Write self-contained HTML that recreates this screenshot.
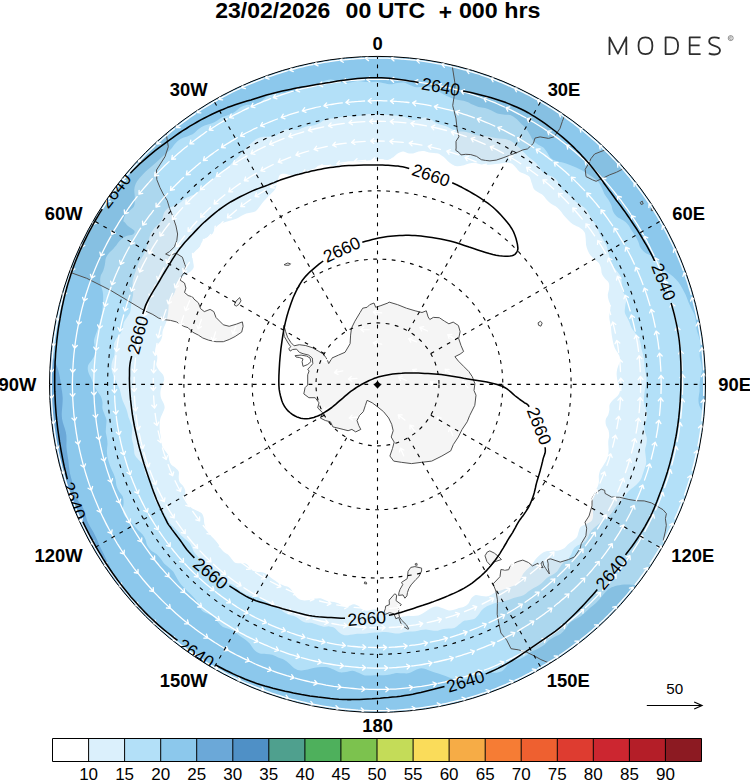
<!DOCTYPE html>
<html><head><meta charset="utf-8"><title>MODES</title>
<style>html,body{margin:0;padding:0;background:#fff}body{width:750px;height:782px;overflow:hidden}svg{display:block}text{font-family:"Liberation Sans",sans-serif}</style>
</head><body>
<svg width="750" height="782" viewBox="0 0 750 782">
<rect width="750" height="782" fill="#fff"/>
<defs><clipPath id="c"><circle cx="377.5" cy="384.4" r="328.0"/></clipPath></defs>
<g clip-path="url(#c)">
<rect x="40" y="50" width="680" height="670" fill="#6ba8d8"/>
<path d="M377.5,39.2C380,39.2 382.5,39.1 385,39.3C387.5,39.5 390,40 392.5,40.3C395,40.7 397.5,41.3 400,41.5C402.5,41.7 405,41.4 407.5,41.4C410,41.3 412.6,41 415.1,41.2C417.6,41.4 420,42.1 422.5,42.6C425,43.2 427.4,44 429.8,44.3C432.3,44.6 434.9,44.4 437.4,44.6C439.9,44.7 442.5,44.6 445,45.1C447.4,45.6 449.8,46.7 452.2,47.7C454.5,48.6 456.8,49.9 459.1,50.8C461.5,51.7 463.9,52.3 466.3,53.1C468.7,53.8 471,54.5 473.5,55.2C475.9,55.8 478.3,56.5 480.8,56.8C483.3,57.2 486,57 488.6,57.2C491.2,57.4 493.9,57.2 496.4,57.8C498.9,58.3 501.2,59.4 503.5,60.5C505.7,61.6 507.8,63.2 510.1,64.4C512.3,65.5 514.6,66.6 516.9,67.6C519.2,68.5 521.7,69.2 524,70.2C526.3,71.2 528.6,72.2 530.9,73.4C533.1,74.6 535.2,76.1 537.3,77.5C539.4,78.9 541.4,80.5 543.4,81.9C545.5,83.4 547.6,84.8 549.7,86.2C551.7,87.6 553.9,88.9 556,90.3C558,91.7 560,93.3 562,94.9C563.9,96.4 565.7,98.2 567.8,99.6C569.8,101 572,102.2 574.3,103.3C576.6,104.5 579.1,105.2 581.3,106.4C583.5,107.7 585.5,109.2 587.4,110.8C589.3,112.5 590.8,114.6 592.7,116.3C594.6,117.9 596.6,119.4 598.7,120.8C600.8,122.2 603.2,123.3 605.2,124.7C607.3,126.2 609.1,127.9 610.9,129.7C612.7,131.4 614.3,133.4 616.1,135.2C617.9,136.9 619.8,138.5 621.7,140.2C623.6,141.9 625.5,143.5 627.3,145.3C629.1,147 630.8,148.9 632.6,150.7C634.4,152.4 636.3,154 638.2,155.7C640.1,157.4 642.3,158.9 644,160.8C645.6,162.7 647,164.9 648.2,167.2C649.4,169.4 650,172.2 651,174.5C652,176.9 653,179.3 654.3,181.5C655.6,183.6 657.2,185.5 658.8,187.4C660.4,189.4 662.2,191.2 663.7,193.1C665.3,195.1 666.9,197.1 668.3,199.1C669.7,201.2 671,203.4 672.3,205.5C673.6,207.6 674.9,209.8 676.2,211.9C677.5,214.1 679,216.1 680.2,218.3C681.5,220.5 682.7,222.7 683.7,225C684.7,227.3 685.4,229.8 686.3,232.1C687.3,234.4 688.3,236.7 689.5,238.9C690.7,241.1 692.4,243.1 693.6,245.3C694.8,247.5 695.9,249.8 696.7,252.2C697.4,254.6 697.4,257.3 697.9,259.8C698.4,262.3 698.8,264.8 699.7,267.1C700.5,269.5 701.9,271.6 703,273.9C704.1,276.2 705.3,278.4 706.2,280.8C707.2,283.1 707.8,285.5 708.7,287.9C709.5,290.2 710.5,292.6 711.4,294.9C712.4,297.3 713.4,299.6 714.2,302C714.9,304.4 715.3,306.9 715.8,309.4C716.3,311.9 716.7,314.3 717.4,316.8C718,319.3 718.9,321.6 719.5,324.1C720,326.6 720.5,329.1 720.5,331.6C720.6,334.1 720.1,336.8 719.8,339.3C719.6,341.9 719.2,344.5 719.2,347C719.3,349.5 719.7,351.9 720.1,354.4C720.5,356.9 721.2,359.4 721.7,361.8C722.1,364.3 722.5,366.8 722.6,369.3C722.7,371.8 722.6,374.4 722.4,376.9C722.2,379.4 721.7,381.9 721.5,384.4C721.2,386.9 721.1,389.4 720.9,391.9C720.7,394.4 720.6,396.9 720.4,399.4C720.1,401.9 719.6,404.3 719.3,406.8C719,409.3 718.7,411.7 718.8,414.3C718.9,416.8 719.5,419.3 719.9,421.9C720.2,424.5 720.9,427.1 720.8,429.6C720.7,432.1 720,434.6 719.5,437C718.9,439.5 717.9,441.9 717.5,444.3C717,446.8 717,449.4 716.9,451.9C716.7,454.4 716.8,457 716.4,459.5C716,462 715.3,464.5 714.7,466.9C714,469.3 713.3,471.8 712.6,474.2C711.8,476.6 711.2,479.1 710.3,481.4C709.3,483.7 708,486 706.9,488.2C705.7,490.5 704.1,492.6 703.1,494.9C702.1,497.2 701.4,499.6 700.7,502C699.9,504.4 699.5,506.9 698.6,509.3C697.8,511.6 696.6,513.9 695.5,516.1C694.4,518.4 693,520.5 692,522.8C690.9,525.1 690.1,527.4 689.3,529.8C688.5,532.2 688,534.7 687.2,537.1C686.4,539.5 685.6,542 684.5,544.2C683.4,546.5 682.1,548.6 680.6,550.7C679.2,552.8 677.4,554.7 675.9,556.7C674.4,558.7 672.8,560.7 671.4,562.8C670,564.8 668.9,567 667.5,569.1C666.1,571.2 664.7,573.3 663.2,575.3C661.8,577.4 660.2,579.3 658.9,581.4C657.6,583.6 656.6,585.9 655.6,588.3C654.5,590.6 653.8,593.3 652.5,595.4C651.2,597.6 649.5,599.5 647.7,601.3C645.9,603 643.5,604.3 641.7,606.1C639.8,607.8 638.1,609.6 636.5,611.6C634.9,613.5 633.7,615.8 632.2,617.8C630.7,619.8 629.1,621.7 627.4,623.6C625.7,625.5 624,627.3 622.3,629.2C620.6,631 619,633 617.2,634.8C615.4,636.5 613.4,638.1 611.4,639.6C609.3,641.1 607,642.2 604.9,643.7C602.9,645.2 600.9,646.8 599.1,648.5C597.3,650.2 595.8,652.4 593.9,654.1C592.1,655.8 590.2,657.4 588,658.8C585.9,660.2 583.5,661.2 581.3,662.3C579.1,663.5 576.8,664.6 574.6,665.9C572.5,667.2 570.4,668.6 568.3,670C566.2,671.4 564.2,672.8 562.1,674.1C559.9,675.4 557.7,676.6 555.5,677.8C553.3,678.9 551,679.9 548.8,681.1C546.6,682.3 544.4,683.5 542.4,684.9C540.3,686.3 538.4,688.1 536.4,689.7C534.4,691.3 532.5,692.9 530.3,694.3C528.2,695.7 525.9,696.7 523.7,698C521.5,699.2 519.3,700.5 517.2,701.9C515,703.2 513,705 510.8,706.2C508.6,707.4 506.2,708.4 503.7,709C501.2,709.5 498.4,709.3 495.8,709.5C493.3,709.8 490.7,709.9 488.2,710.5C485.8,711.1 483.5,712.2 481.1,713.1C478.8,714 476.5,714.9 474.1,715.7C471.7,716.5 469.2,717.1 466.8,717.8C464.4,718.5 462.1,719.4 459.6,720C457.2,720.6 454.7,721.2 452.2,721.5C449.7,721.8 447.1,721.5 444.6,721.6C442.1,721.8 439.5,721.8 437.1,722.3C434.6,722.8 432.3,723.8 429.9,724.6C427.4,725.3 425,726.2 422.6,726.6C420.1,727.1 417.6,727.1 415,727.2C412.5,727.3 410,727.1 407.5,727.2C405,727.3 402.5,727.5 400,727.7C397.5,727.9 395,728.3 392.5,728.5C390,728.8 387.5,729 385,729.2C382.5,729.3 380,729.2 377.5,729.2C375,729.2 372.5,729 370,729.1C367.5,729.2 364.9,729.6 362.4,729.7C359.9,729.9 357.4,730.2 354.8,730C352.3,729.9 349.8,729.3 347.4,728.8C344.9,728.3 342.5,727.5 340,727.2C337.5,726.9 334.9,727 332.4,726.9C329.9,726.7 327.3,726.9 324.9,726.4C322.4,726 320,725 317.6,724.3C315.2,723.5 312.8,722.5 310.3,722.1C307.9,721.6 305.3,721.7 302.8,721.5C300.2,721.4 297.6,721.5 295.1,721.3C292.5,721 290.1,720.4 287.6,719.8C285.2,719.3 282.7,718.7 280.3,717.9C277.9,717.1 275.5,716.4 273.2,715.2C270.9,714.1 268.8,712.4 266.7,710.9C264.5,709.5 262.5,707.7 260.3,706.5C258,705.4 255.6,704.6 253.3,703.9C250.9,703.2 248.3,702.9 245.9,702.2C243.5,701.4 241.2,700.5 238.9,699.4C236.6,698.4 234.5,697 232.3,695.8C230.1,694.7 227.8,693.5 225.6,692.5C223.3,691.5 220.9,690.6 218.6,689.7C216.2,688.8 213.8,688 211.5,687C209.2,686 206.9,685 204.7,683.8C202.4,682.6 200.3,681.2 198.2,679.9C196,678.7 193.8,677.5 191.6,676.2C189.4,675 187.1,673.9 185.1,672.4C183,670.9 181.2,669.1 179.5,667.2C177.7,665.3 176.3,663 174.6,661.1C172.9,659.3 171,657.6 169,656.1C167.1,654.5 164.8,653.4 162.9,651.8C161,650.1 159.3,648.3 157.7,646.3C156.1,644.4 154.9,642 153.3,640C151.8,638 150.1,636.2 148.5,634.3C146.9,632.4 145.1,630.7 143.7,628.7C142.2,626.6 140.9,624.4 139.7,622.2C138.4,620.1 137.2,617.8 136,615.6C134.7,613.4 133.3,611.4 132.2,609.1C131.1,606.9 130.2,604.4 129.4,602C128.5,599.5 128.1,596.8 127.2,594.4C126.2,592.1 125.1,590 123.7,588.1C122.4,586.1 120.5,584.6 119,582.8C117.4,581 115.8,579.2 114.6,577.2C113.3,575.2 112.3,573 111.3,570.8C110.3,568.6 109.5,566.3 108.5,564.1C107.5,561.9 106.6,559.8 105.5,557.7C104.5,555.5 103.4,553.5 102.4,551.4C101.3,549.3 100.2,547.2 99.3,545C98.3,542.9 97.5,540.7 96.6,538.5C95.6,536.4 94.6,534.3 93.5,532.2C92.4,530.2 91,528.3 89.9,526.2C88.8,524.2 87.7,522.1 86.9,519.9C86.1,517.7 85.8,515.3 85.1,513.1C84.3,510.9 83.5,508.7 82.4,506.6C81.2,504.6 79.4,502.8 78.1,500.8C76.9,498.8 75.6,496.8 74.8,494.6C73.9,492.4 73.8,490 73.3,487.7C72.8,485.4 72.4,483 71.9,480.8C71.4,478.5 70.6,476.3 70.1,474C69.6,471.7 69.3,469.4 69,467.1C68.7,464.7 68.6,462.4 68.3,460.1C68,457.7 67.5,455.5 67.2,453.2C66.9,450.9 66.5,448.6 66.4,446.3C66.3,444 66.6,441.6 66.5,439.2C66.5,436.9 66.4,434.6 65.9,432.4C65.5,430.1 64.5,427.9 63.9,425.7C63.2,423.5 62.4,421.2 62.1,418.9C61.7,416.7 61.7,414.3 61.8,412C61.9,409.7 62.3,407.4 62.4,405.1C62.6,402.7 62.7,400.4 62.7,398.1C62.6,395.9 62.3,393.6 62,391.3C61.7,389 61.2,386.7 60.9,384.4C60.5,382.1 60.3,379.8 59.9,377.5C59.5,375.1 59,372.8 58.3,370.5C57.6,368.1 56.6,365.7 55.6,363.3C54.6,360.9 53.4,358.4 52.3,355.9C51.2,353.5 49.6,350.9 49,348.4C48.3,345.9 48.8,343.6 48.5,341.1C48.1,338.6 47.4,336.1 46.8,333.5C46.2,330.9 45,328.2 44.8,325.7C44.7,323.2 45.6,320.9 46.1,318.5C46.6,316.1 47.3,313.7 47.7,311.3C48.1,308.9 48.2,306.4 48.4,303.9C48.6,301.4 48.8,298.9 49,296.4C49.3,293.9 49.7,291.4 49.9,288.9C50,286.4 49.9,283.7 50,281.1C50,278.5 49.9,275.8 50.2,273.3C50.6,270.8 51.4,268.4 52.3,266C53.1,263.7 54.4,261.4 55.2,259.1C56.1,256.7 56.8,254.3 57.6,251.9C58.4,249.5 58.9,247 59.9,244.7C60.9,242.4 62.2,240.2 63.6,238C64.9,235.9 66.6,233.9 68.1,231.8C69.6,229.7 71.1,227.7 72.3,225.5C73.6,223.4 74.7,221.1 75.7,218.8C76.7,216.5 77.4,214 78.4,211.7C79.3,209.4 80.3,207 81.5,204.8C82.7,202.6 84.2,200.5 85.5,198.4C86.9,196.3 88.2,194.1 89.5,192C90.9,189.9 92.1,187.6 93.7,185.7C95.3,183.7 97.2,182 99.1,180.3C101,178.6 103.4,177.2 105.1,175.4C106.9,173.6 108.3,171.5 109.6,169.4C110.9,167.2 111.7,164.7 113.1,162.5C114.5,160.4 116,158.4 117.7,156.6C119.5,154.8 121.6,153.3 123.5,151.6C125.4,150 127.2,148.2 129,146.5C130.8,144.7 132.5,142.9 134.4,141.3C136.2,139.6 138.2,138.1 140,136.3C141.8,134.6 143.5,132.8 145.2,130.9C146.9,129 148.2,126.8 150,124.9C151.7,123.1 153.6,121.4 155.6,119.9C157.6,118.4 160,117.4 162,116C164.1,114.5 166.1,113 168,111.4C169.9,109.7 171.5,107.7 173.3,105.9C175.1,104.1 176.9,102.3 178.8,100.7C180.8,99.1 182.9,97.7 185,96.3C187.1,94.9 189.2,93.6 191.3,92.2C193.4,90.8 195.5,89.3 197.6,87.9C199.7,86.5 201.6,84.9 203.8,83.5C205.9,82.2 208.1,80.9 210.5,80C212.8,79 215.4,78.4 217.8,77.7C220.3,76.9 222.8,76.3 225.2,75.5C227.5,74.6 229.8,73.5 232.1,72.6C234.5,71.8 236.8,70.9 239.3,70.3C241.7,69.6 244.4,69.5 246.8,68.8C249.1,68 251.5,67.2 253.6,65.9C255.8,64.6 257.7,62.6 259.8,61.1C262,59.7 264.1,58.2 266.4,57.1C268.7,56.1 271.2,55.7 273.7,55C276.1,54.4 278.6,53.9 281,53.3C283.4,52.6 285.8,51.9 288.2,51.3C290.7,50.7 293.2,50.3 295.6,49.8C298.1,49.2 300.5,48.6 302.9,47.8C305.3,47 307.6,45.7 310,44.9C312.4,44.1 314.8,43.2 317.3,42.8C319.8,42.4 322.4,42.6 324.9,42.6C327.4,42.6 330,42.8 332.5,42.5C335,42.3 337.4,41.8 339.9,41.3C342.4,40.8 344.9,40.2 347.4,39.8C349.8,39.5 352.4,39.3 354.9,39.2C357.4,39.1 359.9,39.2 362.4,39.2C364.9,39.2 367.5,39.3 370,39.3C372.5,39.3 375,39.2 377.5,39.2Z" fill="#8cc8ec"/>
<path d="M377.5,81.9C379.7,82.1 381.9,82.8 384.1,83.2C386.3,83.6 388.4,84.3 390.6,84.3C392.8,84.3 395,83.3 397.3,83C399.5,82.8 401.7,82.2 403.9,82.6C406.1,83 408.1,84.5 410.3,85.3C412.4,86 414.4,87 416.6,87.3C418.8,87.5 421.1,86.7 423.3,86.7C425.5,86.6 427.8,86.5 429.9,87C432.1,87.5 434.1,88.8 436.1,89.9C438.1,91 440,92.4 442,93.5C444,94.6 445.9,95.7 447.9,96.6C449.9,97.5 451.9,98.3 454,98.9C456.1,99.5 458.2,99.7 460.3,100.2C462.5,100.6 464.6,100.9 466.6,101.7C468.7,102.4 470.5,103.7 472.5,104.6C474.5,105.4 476.4,106.4 478.5,107C480.6,107.6 482.9,107.5 485,108.1C487.1,108.6 489.1,109.4 491,110.3C493,111.2 494.7,112.6 496.8,113.3C498.8,114 501.1,114.1 503.4,114.4C505.7,114.7 508.2,114.4 510.3,115.1C512.4,115.8 514.2,117.1 515.9,118.5C517.7,119.8 519.1,121.7 520.7,123.3C522.3,124.9 524.1,126.2 525.5,128C527,129.7 528.3,131.8 529.5,133.9C530.8,135.9 531.7,138.5 533,140.3C534.4,142 536.1,143.2 537.9,144.4C539.6,145.6 541.8,146.1 543.4,147.5C545,148.9 546.1,150.9 547.4,152.7C548.6,154.5 549.5,156.9 551,158.3C552.6,159.7 554.6,160.5 556.6,161.2C558.7,161.9 561.3,162.1 563.5,162.7C565.7,163.4 567.8,164.1 570,165C572.1,165.8 574.1,166.7 576.1,167.6C578.2,168.6 580.3,169.5 582.3,170.5C584.2,171.6 586.1,172.8 587.9,174C589.8,175.2 591.6,176.4 593.4,177.8C595.1,179.1 597,180.3 598.4,182C599.8,183.6 600.7,185.8 601.7,187.8C602.7,189.8 603.4,192 604.4,194C605.5,195.9 607,197.5 608.1,199.3C609.2,201.2 610.4,203 611.2,205.1C612,207.1 612.2,209.7 613.1,211.6C614.1,213.6 615.3,215.3 617,216.7C618.6,218.2 621.3,218.9 623.1,220.3C625,221.6 626.8,223.1 628.1,224.7C629.5,226.4 630.3,228.5 631.5,230.3C632.6,232.1 634,233.8 635.1,235.7C636.2,237.5 637.3,239.4 638.2,241.4C639.1,243.3 639.3,245.7 640.4,247.6C641.5,249.4 642.9,251.1 644.9,252.6C646.8,254 650,254.9 652.3,256.3C654.6,257.6 656.8,259.1 658.5,260.8C660.1,262.5 660.6,264.7 662,266.6C663.4,268.4 665,270.2 666.9,271.9C668.8,273.5 671.4,275 673.3,276.7C675.3,278.5 677,280.3 678.5,282.2C680,284.2 681.1,286.3 682.2,288.3C683.4,290.4 684.5,292.5 685.5,294.6C686.5,296.8 687.2,299 688.1,301.2C689,303.4 690,305.5 691,307.7C692,309.9 693.4,311.9 694.3,314.2C695.1,316.4 695.5,318.7 695.9,321.1C696.2,323.4 696,325.8 696.4,328.2C696.8,330.5 697.6,332.7 698.3,335C699,337.3 700.1,339.5 700.4,341.9C700.7,344.2 700.3,346.7 700.1,349.1C700,351.5 699.5,353.9 699.7,356.2C699.8,358.6 700.8,360.8 701.2,363.2C701.6,365.5 702.1,367.9 701.9,370.2C701.8,372.6 700.8,375 700.4,377.4C700,379.7 699.7,382.1 699.6,384.4C699.4,386.7 699.7,389.1 699.5,391.4C699.3,393.8 698.6,396.1 698.5,398.4C698.5,400.8 698.5,403.1 699.3,405.5C700.1,407.9 702.3,410.4 703.4,412.9C704.6,415.4 706,418 706.3,420.4C706.5,422.8 705.4,425.2 704.9,427.5C704.3,429.8 703.2,432.1 702.9,434.5C702.6,436.9 702.9,439.3 702.9,441.8C703,444.2 703.1,446.7 703.1,449.2C703.1,451.6 702.8,454 702.7,456.5C702.6,459 702.6,461.4 702.4,463.9C702.2,466.4 701.9,468.8 701.6,471.2C701.3,473.7 700.9,476.1 700.6,478.6C700.2,481 700.2,483.6 699.6,486C699,488.3 698.2,490.7 697.1,492.9C696,495.1 694,497 692.7,499.1C691.5,501.3 690.3,503.4 689.4,505.7C688.4,507.9 688.2,510.5 687.2,512.7C686.1,514.9 684.7,516.9 683.2,518.9C681.7,520.9 679.5,522.6 678.3,524.6C677,526.7 676.3,529 675.5,531.3C674.7,533.6 674.4,536.2 673.4,538.4C672.4,540.7 670.9,542.6 669.7,544.7C668.4,546.8 667.1,548.8 666,551C664.9,553.2 664.3,555.6 663.2,557.8C662,559.9 660.5,561.8 659.1,563.8C657.6,565.7 655.6,567.3 654.4,569.4C653.2,571.5 652.8,574.2 651.6,576.4C650.5,578.5 649.5,580.8 647.4,582.3C645.3,583.7 642.5,584.7 639.1,585.1C635.6,585.5 630.5,584.5 626.9,584.5C623.2,584.6 620,584.9 617.2,585.6C614.4,586.2 612.1,587.1 610.1,588.3C608,589.5 606.5,591.2 604.9,592.8C603.3,594.4 602.1,596.3 600.6,598C599.1,599.6 597.6,601.3 596,602.9C594.3,604.4 592.5,605.7 590.8,607.2C589.1,608.7 587.6,610.3 585.9,611.8C584.2,613.3 582.6,614.9 580.8,616.2C578.9,617.5 576.7,618.3 574.7,619.5C572.8,620.7 570.9,621.8 569.3,623.4C567.7,625 566.8,627.4 565.3,629.1C563.8,630.9 562.3,632.7 560.5,634C558.7,635.3 556.3,635.8 554.3,636.9C552.3,637.9 550.4,639.1 548.6,640.5C546.9,641.9 545.5,643.9 543.7,645.3C541.9,646.6 539.9,647.7 537.9,648.7C535.9,649.8 533.7,650.4 531.8,651.6C529.8,652.7 528.2,654.4 526.3,655.6C524.4,656.8 522.4,657.9 520.3,658.8C518.2,659.6 515.8,659.7 513.7,660.7C511.7,661.6 509.9,663 508.2,664.6C506.4,666.2 505.1,668.8 503.2,670.2C501.4,671.5 499.2,672.3 496.9,672.7C494.6,673.1 491.9,672.4 489.6,672.5C487.2,672.7 484.9,672.9 482.7,673.5C480.6,674.1 478.6,675.3 476.5,676.1C474.4,676.9 472.3,677.8 470.2,678.3C468,678.9 465.8,679.4 463.5,679.6C461.3,679.8 458.9,679.8 456.5,679.4C454.2,679 451.6,678.2 449.2,677.4C446.8,676.6 444.3,675.5 441.9,674.8C439.5,674 437.2,673.4 434.8,672.6C432.5,671.8 430.1,670.7 427.8,669.9C425.6,669.2 423.3,668.2 421.2,668.3C419.1,668.3 417.1,669.5 415.1,670.3C413.1,671.1 411.2,672.6 409.1,673.1C407.1,673.6 404.9,673.3 402.8,673.3C400.7,673.3 398.5,672.8 396.4,673C394.3,673.2 392.3,674.1 390.2,674.5C388.1,674.9 386,675.2 383.8,675.3C381.7,675.4 379.6,674.9 377.5,674.9C375.4,674.9 373.3,675.3 371.2,675.4C369,675.5 366.9,675.8 364.8,675.4C362.7,674.9 360.7,673.5 358.6,672.7C356.5,671.9 354.5,670.9 352.4,670.7C350.3,670.6 348.1,671.7 346,672C343.9,672.2 341.7,672.7 339.6,672.3C337.5,671.9 335.6,670.4 333.6,669.5C331.6,668.7 329.7,667.6 327.6,667.2C325.6,666.7 323.4,666.9 321.3,667C319.1,667.1 316.9,667.4 314.7,667.8C312.4,668.2 310,669.1 307.7,669.6C305.4,670 303,670.7 300.8,670.5C298.7,670.4 296.6,669.7 294.7,668.5C292.8,667.4 291.2,665.2 289.4,663.7C287.7,662.2 285.9,660.7 284.1,659.7C282.2,658.6 280.1,658.2 278.2,657.4C276.2,656.5 274.4,655.4 272.3,654.8C270.3,654.2 268.1,654.1 265.9,653.9C263.7,653.6 261.2,654.1 259.2,653.3C257.2,652.6 255.5,651.1 253.9,649.5C252.3,647.9 251.2,645.3 249.7,643.6C248.1,641.9 246.5,640.6 244.8,639.3C243.1,638 241.3,637 239.6,635.7C237.9,634.5 236.5,632.8 234.7,631.7C233,630.6 231,629.8 229.1,629C227.1,628.2 224.8,628 223,627C221.2,625.9 219.8,624.2 218.3,622.6C216.9,621 215.9,618.8 214.4,617.4C212.8,616 210.8,615.2 208.9,614.3C207.1,613.3 204.8,612.9 203.1,611.6C201.5,610.3 200.4,608.4 199.2,606.5C198.1,604.7 197.3,602.3 196.2,600.5C195,598.7 193.5,597.3 192.1,595.8C190.7,594.3 189.1,593 187.6,591.6C186.2,590.1 184.8,588.7 183.4,587.1C182.1,585.6 180.7,584.1 179.5,582.4C178.3,580.8 177.3,578.8 176.3,577C175.2,575.2 174.4,573.2 173.2,571.6C171.9,570 170.3,568.8 168.8,567.4C167.3,566.1 165.5,564.9 164.1,563.4C162.8,562 161.9,560.1 160.6,558.5C159.3,556.9 158.1,555.3 156.5,554C154.9,552.6 152.6,551.8 151.1,550.4C149.6,549 148.2,547.4 147.3,545.6C146.4,543.8 146.3,541.3 145.5,539.4C144.7,537.5 143.7,535.7 142.4,534.2C141.1,532.6 139.2,531.4 137.8,529.9C136.3,528.4 135.1,526.7 133.7,525.2C132.3,523.6 131,522 129.5,520.5C128,518.9 125.9,517.7 124.8,516C123.7,514.2 123,512.2 122.8,510C122.6,507.8 123.7,505 123.6,502.8C123.6,500.5 123.4,498.4 122.7,496.5C121.9,494.6 120.1,493.2 119.1,491.5C118,489.7 117.1,487.8 116.6,485.9C116,483.9 116,481.7 115.6,479.7C115.1,477.8 114.4,475.9 113.7,474C112.9,472.1 111.9,470.3 111.1,468.4C110.3,466.5 109.6,464.6 109,462.7C108.4,460.7 107.8,458.8 107.4,456.8C107.1,454.8 106.9,452.7 106.9,450.6C106.9,448.5 107.4,446.3 107.5,444.3C107.5,442.2 107.3,440.2 107,438.2C106.8,436.2 106,434.3 105.8,432.3C105.7,430.3 106,428.2 106.1,426.2C106.2,424.1 106.7,422.1 106.5,420.1C106.2,418.1 105.1,416.2 104.5,414.3C103.8,412.4 102.8,410.4 102.5,408.5C102.1,406.5 102.7,404.4 102.5,402.4C102.2,400.4 101.9,398.5 100.9,396.5C100,394.5 98,392.5 96.8,390.5C95.6,388.5 94.5,386.5 93.6,384.4C92.6,382.3 91.9,380.3 91.1,378.1C90.2,376 88.7,373.9 88.2,371.8C87.7,369.7 87.5,367.5 88.1,365.4C88.8,363.4 91,361.4 92.2,359.4C93.4,357.5 95,355.6 95.5,353.5C95.9,351.5 95.1,349.3 94.8,347.2C94.6,345.1 93.8,342.8 94,340.8C94.1,338.7 95,336.7 95.6,334.7C96.3,332.7 97.2,330.8 97.8,328.8C98.5,326.8 99,324.8 99.5,322.8C100.1,320.8 100.7,318.8 101.2,316.8C101.7,314.8 102.1,312.7 102.3,310.7C102.6,308.6 102.6,306.4 102.8,304.3C102.9,302.2 103.2,300.1 103.2,297.9C103.2,295.7 103.1,293.5 102.6,291.1C102.1,288.7 100.8,286 100.4,283.6C100.1,281.2 100,278.8 100.5,276.7C100.9,274.5 102.4,272.8 103.2,270.8C103.9,268.7 104.4,266.6 104.9,264.5C105.4,262.3 105.2,259.8 106,257.8C106.8,255.8 108.3,254.1 109.7,252.3C111.1,250.6 113.2,249.2 114.4,247.4C115.6,245.6 116.1,243.5 116.9,241.4C117.6,239.3 117.9,237 118.7,235C119.5,232.9 120.8,231.2 121.5,229C122.2,226.9 122.5,224.5 123.1,222.3C123.6,220.1 123.8,217.6 124.9,215.6C126,213.7 127.9,212.3 129.4,210.7C131,209.1 133.1,208 134.1,205.9C135,203.8 134.8,201 134.9,198.2C134.9,195.5 134.1,191.9 134.3,189.2C134.6,186.6 135.4,184.3 136.5,182.2C137.6,180.1 139.2,178.5 140.7,176.7C142.2,175 143.8,173.3 145.4,171.7C147.1,170.2 148.9,168.7 150.6,167.2C152.3,165.7 154.1,164.2 155.8,162.7C157.5,161.2 159.1,159.6 160.8,158C162.5,156.5 164.2,155 166,153.5C167.7,152 169.5,150.6 171,149C172.6,147.3 173.7,145.1 175.3,143.5C176.9,141.8 178.5,140.1 180.5,138.9C182.5,137.7 185.1,137.4 187.3,136.5C189.5,135.6 191.7,134.9 193.6,133.6C195.5,132.4 196.9,130.4 198.7,129.1C200.5,127.7 202.5,126.5 204.6,125.6C206.7,124.7 209.2,124.4 211.3,123.6C213.4,122.7 215.3,121.5 217.3,120.4C219.2,119.3 221,117.8 223,116.8C225,115.9 227.4,115.4 229.5,114.5C231.5,113.7 233.6,112.8 235.4,111.5C237.3,110.3 238.8,108.2 240.8,107.1C242.7,106 244.9,105.3 247.1,104.8C249.4,104.4 252.1,105 254.4,104.5C256.6,104.1 258.6,103.2 260.5,102C262.4,100.8 263.9,98.5 265.8,97.2C267.7,95.9 269.7,94.8 271.9,94.2C274,93.5 276.4,93.6 278.7,93.4C281,93.1 283.3,93.1 285.6,92.9C287.8,92.7 290.1,92.6 292.3,92.2C294.5,91.9 296.7,91.4 298.8,90.7C300.9,90 302.9,88.8 304.9,87.9C307,87 309.1,86.1 311.2,85.4C313.3,84.6 315.5,84.2 317.6,83.5C319.8,82.7 321.8,81.7 324,81C326.2,80.3 328.3,79.4 330.6,79.4C332.8,79.4 335.2,80.4 337.6,81C339.9,81.6 342.2,82.8 344.5,83C346.7,83.2 348.9,82.5 351.1,82.2C353.2,81.8 355.4,81.1 357.6,81C359.8,81 362.1,81.6 364.3,81.8C366.5,82 368.7,82.2 370.9,82.2C373.1,82.2 375.3,81.7 377.5,81.9Z" fill="#b3e0f8"/>
<path d="M377.5,114.4C379.5,114.5 381.4,114.4 383.4,114.5C385.4,114.6 387.3,114.8 389.3,114.9C391.2,115 393.2,115.2 395.1,115.4C397.1,115.5 399.1,115.5 401,115.9C402.9,116.3 404.8,117.1 406.7,117.8C408.6,118.5 410.4,119.8 412.3,120C414.2,120.3 416.3,119.8 418.3,119.4C420.3,118.9 422.6,117.6 424.6,117.5C426.6,117.5 428.5,118.2 430.3,119C432.1,119.9 433.7,121.8 435.5,122.7C437.3,123.7 439.2,124.2 441,124.8C442.9,125.4 444.8,125.6 446.6,126.4C448.4,127.1 450.1,128.4 451.9,129.3C453.6,130.1 455.4,130.9 457.3,131.3C459.2,131.7 461.3,131.4 463.3,131.6C465.3,131.8 467.2,132.2 469.1,132.7C471,133.2 472.7,134.3 474.6,134.8C476.4,135.4 478.4,135.6 480.5,135.8C482.5,136.1 484.6,136 486.7,136.3C488.7,136.6 490.6,137.1 492.6,137.5C494.6,137.9 496.7,138.2 498.8,138.5C500.9,138.8 503.2,138.7 505.2,139.1C507.2,139.5 509.2,140.2 511,141.1C512.7,142.1 514.3,143.4 515.9,144.7C517.5,146 519,147.4 520.4,148.8C521.9,150.3 523.3,151.8 524.8,153.3C526.2,154.7 527.6,156.2 529.1,157.5C530.6,158.8 532.4,159.8 533.9,161.1C535.4,162.4 536.8,163.8 538.1,165.4C539.4,167 540.2,169.2 541.5,170.7C542.8,172.2 544.2,173.5 546,174.5C547.7,175.4 550.2,175.5 552,176.5C553.8,177.4 555.4,178.5 556.7,180.1C557.9,181.6 558.4,184.1 559.5,185.8C560.6,187.5 561.7,189.1 563.1,190.5C564.5,191.8 566.5,192.6 568,193.9C569.5,195.1 570.8,196.6 572.2,198C573.6,199.4 574.7,201 576.3,202.3C577.8,203.5 579.8,204.3 581.5,205.5C583.1,206.7 584.9,207.8 586.2,209.3C587.5,210.8 588.2,212.7 589.2,214.5C590.2,216.2 591.1,218 592.1,219.7C593.2,221.4 594.5,222.9 595.5,224.6C596.5,226.3 597.2,228.1 598.1,230C598.9,231.8 599.5,233.7 600.4,235.4C601.3,237.2 602.6,238.7 603.6,240.4C604.6,242 605.6,243.7 606.4,245.5C607.1,247.3 607.5,249.4 608,251.3C608.5,253.2 609,255.2 609.6,257.1C610.2,258.9 610.8,260.8 611.6,262.6C612.3,264.3 613.1,266.1 614.1,267.7C615.2,269.3 616.7,270.7 617.8,272.3C619,273.9 620.4,275.4 621,277.2C621.7,279.1 621.6,281.2 621.7,283.2C621.9,285.2 621.6,287.4 622,289.3C622.5,291.2 623.7,292.8 624.4,294.5C625.1,296.3 626.1,298 626.2,300C626.3,301.9 625.4,304.2 625.2,306.3C625,308.4 624.5,310.5 624.8,312.3C625.1,314.2 626.3,315.8 627.1,317.5C627.9,319.2 628.9,320.9 629.6,322.7C630.4,324.5 630.7,326.3 631.6,328.1C632.6,329.8 633.9,331.4 635.2,333.1C636.4,334.9 638.1,336.5 639,338.3C639.9,340.1 640.2,342 640.7,343.9C641.1,345.8 641.2,347.7 641.6,349.6C642,351.5 642.8,353.4 643.2,355.3C643.7,357.2 644.1,359.1 644.3,361.1C644.5,363 644.4,365 644.6,366.9C644.9,368.8 645.3,370.8 645.6,372.7C646,374.6 646.5,376.6 646.5,378.5C646.6,380.5 646.2,382.4 646,384.4C645.7,386.4 645.1,388.3 644.8,390.2C644.5,392.2 644.2,394.1 644.1,396C644,398 643.8,399.9 644,401.9C644.2,403.8 644.7,405.8 645.3,407.8C645.8,409.8 646.9,411.9 647,413.9C647.2,415.9 646.9,417.9 646.4,419.8C646,421.7 644.6,423.5 644.4,425.5C644.1,427.4 644.5,429.5 644.9,431.5C645.3,433.6 646.6,435.9 646.8,438C647,440 646.7,442 646.4,444C646.1,446 645.2,447.8 645.1,449.9C645,451.9 645.5,454.1 645.7,456.3C645.9,458.4 646.3,460.6 646.2,462.7C646,464.8 645.2,466.7 644.6,468.6C644,470.6 643.3,472.5 642.6,474.4C641.9,476.3 641.5,478.3 640.4,480.1C639.4,481.9 637.7,483.4 636.1,485C634.5,486.5 632.3,487.8 630.7,489.3C629,490.8 627.7,492.3 626.4,493.9C625.1,495.5 624.1,497.2 622.9,498.8C621.6,500.4 620,501.8 618.7,503.4C617.4,504.9 616.2,506.4 615,508C613.8,509.6 613,511.4 611.7,512.9C610.5,514.4 609.1,515.9 607.6,517.2C606.1,518.6 604.3,519.8 602.7,521C601,522.3 599.4,523.5 597.9,524.8C596.3,526.1 594.7,527.3 593.4,528.6C592,530 590.9,531.5 589.9,533.1C588.9,534.8 588.6,536.8 587.5,538.4C586.5,540 585.4,541.5 583.8,542.7C582.2,543.8 579.7,544.3 578,545.3C576.3,546.4 574.7,547.4 573.6,548.9C572.4,550.4 572.2,552.6 571.3,554.3C570.3,556 569.3,557.6 568,559C566.7,560.4 564.8,561.1 563.5,562.5C562.1,563.8 561.1,565.3 560,566.9C558.8,568.4 558.1,570.3 556.8,571.7C555.5,573 553.8,574 552.1,575C550.5,576 548.7,576.7 547.1,577.8C545.6,579 544.5,580.5 543.1,581.7C541.7,583 540.3,584.3 538.8,585.3C537.2,586.4 535.3,587 533.7,588C532.1,588.9 530.6,590 529.1,591.1C527.6,592.2 526.3,593.6 524.6,594.5C523,595.5 521.1,596 519.3,596.6C517.5,597.2 515.5,597.5 513.6,598.1C511.8,598.6 510.1,599.4 508.3,600C506.5,600.5 504.7,601.1 502.9,601.5C501,602 499.1,602.2 497.2,602.6C495.4,603.1 493.6,603.6 491.9,604.2C490.2,604.8 488.5,605.4 486.9,606.3C485.4,607.2 483.8,608.1 482.5,609.5C481.1,610.8 480,612.9 478.7,614.4C477.4,615.9 476.1,617.7 474.5,618.7C472.9,619.6 470.9,619.5 469.1,619.9C467.3,620.3 465.3,620.2 463.6,620.9C461.9,621.7 460.6,623.4 459,624.5C457.5,625.7 456,627.2 454.3,627.9C452.5,628.5 450.5,628.3 448.7,628.5C446.8,628.7 444.9,628.7 443.1,629.1C441.3,629.5 439.6,630.4 437.8,630.7C435.9,630.9 434,630.8 432.1,630.6C430.2,630.4 428.1,629.6 426.3,629.5C424.4,629.4 422.6,629.7 420.8,630C419,630.3 417.3,631 415.5,631.3C413.7,631.6 411.9,631.4 410,631.6C408.2,631.7 406.4,631.8 404.6,632.1C402.8,632.4 401.1,633.2 399.3,633.4C397.5,633.6 395.6,633.5 393.8,633.3C392,633.1 390.1,632.5 388.3,632.3C386.5,632 384.7,632 382.9,632C381.1,632.1 379.3,632.3 377.5,632.4C375.7,632.5 373.9,632.5 372.1,632.7C370.3,632.9 368.5,633.2 366.6,633.4C364.8,633.5 363,633.8 361.2,633.8C359.3,633.9 357.5,633.8 355.7,633.9C353.8,634.1 351.9,634.5 350.1,634.7C348.2,635 346.3,635.6 344.5,635.2C342.7,634.8 341,633.6 339.3,632.4C337.7,631.1 336.2,628.9 334.6,627.9C332.9,626.9 331.2,626.6 329.4,626.4C327.6,626.2 325.6,626.9 323.8,626.7C322,626.5 320.3,625.8 318.6,625.3C316.8,624.7 315.2,623.8 313.5,623.4C311.7,622.9 309.8,623.1 308,622.8C306.2,622.5 304.4,622.2 302.8,621.4C301.1,620.6 299.7,619.1 298.1,618.2C296.5,617.3 295,616.4 293.3,615.8C291.6,615.2 289.7,615 288.1,614.4C286.4,613.7 284.9,612.7 283.3,611.8C281.8,610.8 280.4,609.5 278.9,608.6C277.3,607.7 275.6,607.1 274,606.3C272.5,605.4 270.9,604.6 269.4,603.6C267.9,602.6 266.6,601.3 265.1,600.3C263.6,599.4 262,598.6 260.3,598C258.6,597.5 256.7,597.3 254.8,596.8C253,596.4 251.2,596 249.4,595.5C247.7,594.9 245.9,594.3 244.3,593.5C242.7,592.7 241.2,591.7 239.7,590.6C238.3,589.5 237.2,587.9 235.8,586.8C234.3,585.7 232.8,584.8 231.1,584C229.4,583.3 227.2,583.2 225.6,582.4C223.9,581.6 222.4,580.5 221.2,579.1C220.1,577.7 219.6,575.4 218.5,573.8C217.5,572.3 216.3,571 214.7,570C213.2,569.1 210.8,568.9 209.2,568.1C207.5,567.3 205.9,566.3 204.6,565C203.3,563.7 202.6,561.9 201.5,560.4C200.4,559 199.1,557.7 197.8,556.4C196.6,555 195.2,553.9 194.2,552.3C193.2,550.8 192.7,548.8 191.9,547.2C191.1,545.5 190.4,543.8 189.2,542.4C188.1,541 186.4,540.1 185,538.9C183.6,537.7 182.1,536.6 180.9,535.3C179.6,534 178.7,532.4 177.5,531.1C176.3,529.7 174.9,528.5 173.6,527.2C172.3,525.9 170.9,524.6 169.8,523.2C168.7,521.7 168,520 167.1,518.4C166.2,516.9 165.4,515.2 164.4,513.7C163.4,512.2 162,510.9 160.9,509.5C159.8,508 158.6,506.6 157.7,505C156.7,503.5 155.8,501.9 155.1,500.2C154.4,498.5 153.7,496.8 153.3,494.9C153,493.1 153.1,491 152.9,489.1C152.7,487.2 152.8,485.3 152.1,483.6C151.5,481.9 150,480.6 149,479.1C147.9,477.6 146.3,476.2 145.6,474.6C144.8,473 144.9,471 144.4,469.2C144,467.5 143.8,465.6 142.8,464.1C141.8,462.5 139.8,461.2 138.5,459.7C137.2,458.3 135.6,456.8 134.9,455.1C134.1,453.4 134.3,451.5 134,449.6C133.7,447.8 133.6,446 133.3,444.2C132.9,442.4 132.1,440.7 131.9,438.9C131.6,437 131.8,435.1 131.9,433.3C131.9,431.4 132.4,429.5 132.2,427.7C132,425.8 131.2,424.1 130.6,422.4C130,420.7 129.1,418.9 128.5,417.2C128,415.4 127.8,413.6 127.2,411.8C126.7,410 126.1,408.2 125.3,406.5C124.6,404.7 123.5,402.9 122.8,401.1C122.1,399.3 121.7,397.4 121.2,395.6C120.7,393.7 120.5,391.9 119.9,390C119.2,388.2 118.3,386.3 117.5,384.4C116.6,382.5 115.4,380.6 114.6,378.7C113.7,376.7 113,374.8 112.4,372.8C111.9,370.9 111.3,368.9 111.3,367C111.3,365 111.7,363.1 112.2,361.2C112.7,359.3 113.9,357.5 114.3,355.6C114.7,353.7 114.6,351.7 114.6,349.8C114.5,347.8 113.7,345.8 114.1,343.9C114.4,342 115.4,340.1 116.5,338.4C117.6,336.6 119.7,335.1 120.7,333.3C121.7,331.6 122.2,329.7 122.7,327.9C123.2,326.1 123.2,324.1 123.9,322.3C124.6,320.6 126,319 127.1,317.3C128.1,315.6 129.5,314.1 130.1,312.3C130.7,310.5 130.7,308.5 130.9,306.7C131.2,304.8 131.3,302.8 131.7,301C132,299.1 132.8,297.3 133,295.4C133.2,293.5 133.1,291.4 133.1,289.3C133,287.3 132.4,285 132.5,282.9C132.6,280.9 133.1,279 133.6,277.1C134.1,275.2 134.9,273.4 135.6,271.6C136.2,269.7 136.6,267.8 137.3,265.9C138,264.1 138.9,262.4 139.9,260.7C140.8,259 142.2,257.5 143.1,255.8C144.1,254.1 144.8,252.3 145.5,250.5C146.2,248.6 146.6,246.6 147.2,244.6C147.7,242.7 148.3,240.7 149,238.8C149.6,236.9 150.2,234.9 151.1,233.1C152,231.3 153,229.6 154.3,228.1C155.6,226.6 157.5,225.6 158.8,224.1C160.1,222.6 161.3,221 162.2,219.2C163,217.3 163.1,214.9 164,213.1C164.9,211.3 166.1,209.6 167.7,208.4C169.4,207.2 172,206.8 174,205.9C175.9,205 177.9,204.1 179.6,203C181.2,201.9 182.3,200.3 184,199.2C185.6,198 187.6,197.2 189.5,196.4C191.4,195.5 193.7,195.2 195.4,194.1C197.1,193.1 198.3,191.7 199.7,190.3C201,189 202.1,187.3 203.5,186C205,184.8 206.8,184 208.4,182.8C209.9,181.7 211.5,180.7 213,179.4C214.4,178.1 215.5,176.4 216.9,175.2C218.4,173.9 219.9,172.7 221.5,171.6C223.1,170.6 224.9,169.8 226.4,168.6C227.9,167.4 229.2,166 230.6,164.6C232,163.2 233.2,161.5 234.6,160.1C236,158.7 237.6,157.6 239,156.2C240.4,154.8 241.8,153.3 243.2,151.8C244.6,150.2 245.8,148.4 247.2,146.9C248.6,145.4 250.1,144 251.7,142.7C253.2,141.4 254.8,140.1 256.5,139.1C258.3,138.1 260.1,137.3 262.1,136.9C264.1,136.5 266.4,136.8 268.5,136.7C270.6,136.5 272.8,136.7 274.7,136.1C276.5,135.5 278,133.9 279.7,132.9C281.4,131.8 282.9,130.3 284.8,129.8C286.7,129.2 289,129.7 291,129.7C293.1,129.7 295.3,130.2 297.2,129.9C299.2,129.6 300.9,128.5 302.7,127.8C304.6,127.2 306.4,126.4 308.3,126C310.2,125.6 312.2,125.8 314.1,125.3C316,124.8 317.8,124 319.6,123.1C321.4,122.2 323,120.6 324.9,119.8C326.7,119.1 328.7,118.7 330.6,118.4C332.5,118.1 334.5,118.2 336.5,118C338.4,117.7 340.3,117.1 342.3,116.8C344.2,116.4 346.1,116.1 348.1,116.1C350.1,116 352.1,116.4 354,116.4C356,116.3 357.9,116.1 359.9,115.8C361.8,115.4 363.8,114.7 365.7,114.4C367.7,114.2 369.6,114.1 371.6,114.1C373.6,114.1 375.5,114.3 377.5,114.4Z" fill="#dbf0fc"/>
<path d="M377.5,159.3C379.1,159.2 380.8,159.2 382.4,159.3C384,159.4 385.6,160.2 387.3,160C388.9,159.9 390.6,159.3 392.3,158.2C394.1,157.1 395.9,154.7 397.7,153.6C399.5,152.5 401.3,151.7 403,151.6C404.7,151.5 406.3,152.9 407.9,153.2C409.6,153.5 411.3,153.7 413.1,153.4C414.8,153.1 416.8,151.8 418.6,151.4C420.4,151 422.2,150.8 423.9,151C425.7,151.2 427.2,152.1 428.9,152.4C430.6,152.7 432.4,152.7 434.1,153C435.9,153.2 437.7,153.2 439.3,153.9C440.9,154.6 442.3,155.9 443.8,157.1C445.2,158.3 446.5,159.9 447.9,161.2C449.3,162.4 450.7,163.5 452.2,164.4C453.7,165.2 455.2,166 456.9,166.2C458.7,166.4 460.6,166 462.6,165.6C464.6,165.1 467,163.9 469,163.4C471.1,163 473.1,162.7 475,162.8C476.8,163 478.4,163.8 480.2,164.2C482,164.6 483.7,165 485.7,165.1C487.6,165.1 489.8,164.7 492,164.5C494.2,164.2 496.4,163.9 498.6,163.7C500.8,163.4 503.3,162.9 505.4,162.9C507.6,162.8 509.8,162.8 511.5,163.5C513.2,164.3 514.4,166 515.8,167.4C517.1,168.7 518.1,170.6 519.6,171.7C521.2,172.8 523.2,173 524.9,173.9C526.5,174.8 528.4,175.5 529.6,177C530.7,178.6 531,181.3 531.8,183.3C532.6,185.4 533,187.8 534.1,189.3C535.2,190.8 537,191.4 538.6,192.5C540.1,193.5 541.9,194.2 543.2,195.4C544.6,196.6 545.5,198.4 546.7,199.7C548,201.1 549.3,202.3 550.7,203.4C552.2,204.5 554.1,205.2 555.6,206.3C557.1,207.4 558.4,208.7 559.7,210C560.9,211.3 561.9,212.9 563.1,214.4C564.2,215.8 565.4,217.2 566.7,218.5C567.9,219.8 569.1,221.2 570.6,222.4C572,223.6 573.6,224.6 575.3,225.6C577,226.6 579.3,227.2 580.8,228.4C582.4,229.5 583.9,230.8 584.7,232.5C585.5,234.2 585.5,236.5 585.7,238.6C586,240.7 585.8,243 586.1,245C586.5,247 587,248.8 587.8,250.5C588.5,252.2 589.3,253.7 590.4,255.2C591.5,256.7 593,257.9 594.4,259.2C595.8,260.5 597.7,261.5 598.8,263C599.9,264.5 600.5,266.3 601,268C601.5,269.8 601.2,272 601.9,273.8C602.5,275.5 603.8,276.9 604.9,278.4C606,279.8 608,281 608.7,282.7C609.4,284.3 609.3,286.4 609.1,288.5C609,290.5 607.9,292.9 607.8,294.8C607.7,296.8 608.2,298.5 608.7,300.3C609.1,302 610.2,303.5 610.5,305.3C610.7,307.1 610.2,309.2 610,311.1C609.8,313 609.2,315 609.2,316.9C609.2,318.7 609.8,320.4 610,322.1C610.3,323.8 610.8,325.5 611,327.3C611.2,329 611.2,330.8 611.4,332.5C611.6,334.3 611.9,336 612.2,337.7C612.5,339.4 612.8,341.1 613.2,342.8C613.6,344.5 614,346.2 614.8,347.9C615.5,349.5 616.9,351.1 617.7,352.8C618.6,354.4 619.7,356.1 619.9,357.8C620.2,359.6 619.6,361.4 619.2,363.3C618.8,365.1 617.7,366.9 617.3,368.7C616.8,370.5 616.7,372.2 616.6,374C616.6,375.7 616.9,377.4 617.2,379.2C617.5,380.9 618.1,382.6 618.6,384.4C619.1,386.2 620.1,387.9 620.1,389.7C620,391.4 619.5,393.2 618.3,394.9C617.2,396.6 614.6,398.2 613.2,399.8C611.7,401.5 610.2,403 609.6,404.7C609,406.4 609.6,408.1 609.4,409.8C609.1,411.5 608.9,413.2 608.3,414.8C607.7,416.4 606.1,417.9 605.8,419.5C605.4,421.2 605.5,422.9 605.9,424.7C606.4,426.5 607.9,428.5 608.5,430.3C609,432.2 609.2,434 609.2,435.8C609.2,437.5 608.5,439.1 608.3,440.9C608.2,442.6 608.3,444.4 608.4,446.3C608.4,448.1 608.7,450 608.6,451.8C608.5,453.5 608.1,455.3 607.6,457C607.1,458.6 606.4,460.2 605.6,461.8C604.7,463.4 603.7,464.9 602.7,466.4C601.8,467.9 600.5,469.3 599.9,470.9C599.3,472.5 599,474.3 598.8,476.1C598.7,477.9 599.1,480 598.9,481.8C598.7,483.6 598.2,485.4 597.5,487C596.8,488.6 595.5,489.9 594.8,491.6C594.1,493.2 593.5,494.9 593.2,496.7C592.9,498.5 592.8,500.5 592.7,502.5C592.6,504.5 592.6,506.5 592.6,508.6C592.7,510.7 593.3,513.2 593.1,515.3C593,517.3 592.8,519.4 591.7,520.8C590.5,522.3 588.2,523 586.4,524C584.6,525 582.1,525.5 580.8,526.8C579.5,528.1 579.3,530.1 578.6,531.9C578,533.6 577.8,535.8 576.8,537.3C575.8,538.8 574,539.8 572.6,541C571.1,542.1 569.5,543.1 568.1,544.3C566.7,545.5 565.9,547.2 564.3,548.2C562.7,549.2 560.8,550 558.7,550.4C556.5,550.8 553.5,550.5 551.2,550.7C548.9,550.9 546.6,551 544.8,551.7C543,552.3 541.7,553.5 540.4,554.5C539,555.6 537.8,556.8 536.7,558.1C535.5,559.4 534.5,560.9 533.5,562.2C532.4,563.6 531.4,565.1 530.2,566.4C529,567.7 527.6,568.7 526.4,569.9C525.2,571.2 524,572.4 523,574C522,575.6 521.4,577.7 520.4,579.3C519.5,581 518.5,582.7 517.1,583.8C515.8,585 514,585.6 512.4,586.3C510.8,587 509,587.5 507.3,588.1C505.6,588.7 503.9,589.3 502.2,589.9C500.5,590.4 498.7,590.8 497.1,591.5C495.5,592.2 494,593.2 492.5,594C490.9,594.8 489.6,596 487.8,596.3C486,596.6 483.8,596.2 481.8,596C479.8,595.7 477.4,594.7 475.7,595C474,595.4 472.8,596.7 471.5,598.1C470.3,599.5 469.6,602.2 468.3,603.7C467.1,605.1 465.6,606.1 464,606.8C462.4,607.5 460.5,607.5 458.9,608C457.2,608.5 455.7,609.4 454,609.8C452.3,610.2 450.6,610.7 448.8,610.4C446.9,610.1 444.7,608.9 442.7,608.3C440.8,607.6 438.8,606.6 437,606.5C435.2,606.4 433.7,607 432.1,607.6C430.5,608.2 429.1,609.3 427.6,610.3C426.1,611.2 424.6,612.3 423,613.2C421.5,614.1 419.9,615.1 418.3,615.6C416.6,616 414.9,616 413.1,616C411.4,616 409.6,615.6 407.9,615.7C406.2,615.8 404.6,616.4 402.9,616.6C401.3,616.9 399.6,617.5 397.9,617.4C396.2,617.2 394.4,616.5 392.7,615.8C390.9,615.1 389.2,614 387.5,613.2C385.8,612.4 384.1,611.6 382.4,611C380.8,610.3 379.1,609.5 377.5,609.3C375.9,609 374.2,609.2 372.6,609.5C370.9,609.7 369.3,610.8 367.6,610.8C366,610.8 364.3,610.5 362.7,609.6C361.2,608.8 359.7,606.7 358.1,605.8C356.6,604.9 355.1,604.3 353.4,604.3C351.8,604.4 350,605.9 348.3,606.2C346.6,606.5 344.9,606.7 343.3,606.3C341.8,605.9 340.4,604.3 338.8,603.6C337.3,602.9 335.8,602.3 334.2,602C332.6,601.7 330.9,601.9 329.4,601.6C327.8,601.2 326.3,600.4 324.8,599.9C323.3,599.3 321.8,598.4 320.2,598.2C318.6,598 316.8,598.3 315.1,598.6C313.3,598.9 311.4,599.6 309.6,599.9C307.7,600.2 305.9,600.5 304.2,600.4C302.5,600.3 300.8,600.1 299.3,599.3C297.8,598.6 296.5,597.2 295.3,595.8C294.1,594.4 293.2,592.1 292.1,590.7C290.9,589.2 289.7,588 288.3,587.1C286.9,586.3 285.2,586.1 283.7,585.5C282.2,584.9 280.7,584.3 279.3,583.5C277.9,582.7 276.6,581.7 275.3,580.7C274,579.8 272.6,579 271.3,578C270,577 268.8,575.8 267.5,574.9C266.2,574 265,573 263.4,572.5C261.8,572 259.8,572.2 258,571.9C256.3,571.6 254.3,571.6 252.9,570.8C251.5,570 250.8,568.2 249.6,567C248.5,565.9 247.6,564.4 246,563.7C244.5,563.1 242.1,563.5 240.2,563.3C238.4,563.1 236.2,563.1 234.7,562.4C233.2,561.6 232.4,559.9 231.3,558.6C230.2,557.3 229.4,555.8 228.2,554.7C227,553.6 225.3,553 224,551.9C222.8,550.8 221.6,549.7 220.6,548.3C219.6,547 219,545.2 218.1,543.8C217.2,542.3 216.2,541.1 215.1,539.8C214,538.6 212.7,537.6 211.6,536.4C210.5,535.2 209.4,534 208.5,532.6C207.5,531.3 206.6,529.9 205.9,528.4C205.2,526.9 204.6,525.2 204.3,523.4C203.9,521.7 204.1,519.5 203.7,517.8C203.2,516.1 202.8,514.5 201.7,513.3C200.6,512.2 198.6,511.6 197,510.8C195.4,509.9 193.5,509.3 192,508.3C190.6,507.3 189.4,506.2 188.4,504.9C187.4,503.6 186.6,502.1 186.1,500.5C185.6,499 185.4,497.1 185.3,495.4C185.1,493.6 185.4,491.6 185.1,490C184.7,488.4 183.8,487 182.9,485.7C182,484.4 180.3,483.4 179.6,482C178.9,480.6 178.8,478.8 178.7,477.1C178.6,475.4 179.3,473.4 178.8,471.8C178.3,470.3 177,469.2 175.7,468C174.5,466.8 172.3,465.9 171.2,464.6C170.1,463.3 169.8,461.7 169.3,460.2C168.8,458.6 169,456.9 168.3,455.4C167.7,453.9 166.4,452.6 165.5,451.3C164.5,449.9 163.2,448.5 162.6,447.1C161.9,445.6 161.8,443.9 161.5,442.3C161.3,440.7 161.2,439 160.9,437.4C160.7,435.8 160.2,434.2 160,432.6C159.8,431 159.7,429.4 159.7,427.7C159.6,426.1 159.6,424.4 159.8,422.8C159.9,421.1 160,419.5 160.6,417.8C161.1,416.1 162.2,414.3 162.8,412.7C163.5,411 164.5,409.3 164.6,407.7C164.7,406.1 164,404.6 163.5,403.1C162.9,401.6 161.7,400.1 161.2,398.6C160.7,397 160.4,395.5 160.4,393.9C160.3,392.3 160.5,390.7 160.9,389.1C161.2,387.5 161.8,386 162.4,384.4C162.9,382.8 164.1,381.3 164.2,379.7C164.3,378.2 164,376.7 163.2,375C162.3,373.4 160,371.7 158.9,370.1C157.7,368.4 156.6,366.7 156.3,365C156,363.4 157,361.9 157.1,360.3C157.3,358.7 157.4,357.1 157.1,355.4C156.8,353.7 155.6,351.9 155.6,350.2C155.5,348.6 156,347 156.8,345.5C157.5,344 159.4,342.7 160.3,341.2C161.2,339.7 161.8,338.2 162.1,336.7C162.5,335.1 162.2,333.4 162.5,331.8C162.8,330.2 163.4,328.7 164,327.2C164.6,325.7 165.5,324.3 166,322.8C166.5,321.2 166.9,319.7 167.2,318.1C167.5,316.5 167.8,314.9 168.1,313.3C168.3,311.7 168.4,310 168.5,308.3C168.7,306.7 168.5,304.9 168.8,303.3C169.2,301.7 169.8,300.1 170.6,298.7C171.4,297.3 172.8,296.1 173.6,294.7C174.4,293.3 175,291.8 175.4,290.2C175.9,288.6 175.8,286.8 176.4,285.2C176.9,283.7 177.6,282.2 178.6,280.9C179.5,279.5 180.8,278.3 182.1,277.2C183.4,276 184.8,275 186.3,274C187.7,273 189.7,272.3 190.9,271.2C192.1,270.1 193.3,269 193.7,267.3C194,265.6 193.2,263.2 193,261.1C192.8,259 192,256.5 192.4,254.8C192.9,253.1 194.3,252.1 195.4,250.9C196.6,249.7 198.3,248.9 199.3,247.6C200.3,246.3 200.6,244.5 201.4,243C202.2,241.6 203,240.1 204.2,239C205.5,237.9 207.5,237.5 208.9,236.5C210.3,235.6 211.7,234.6 212.7,233.4C213.7,232.1 214.1,230.2 215,228.8C215.9,227.5 216.9,226.1 218.2,225.1C219.6,224.2 221.3,223.6 222.9,223C224.6,222.3 226.3,221.8 228,221.2C229.7,220.7 231.5,220.3 233.1,219.8C234.8,219.2 236.4,218.7 237.9,218C239.4,217.3 240.5,216.3 242,215.5C243.4,214.8 244.7,214 246.3,213.5C247.9,213 249.9,213 251.5,212.6C253.1,212.1 254.7,211.7 256,210.9C257.3,210 258.1,208.5 259.1,207.3C260.2,206 261.1,204.6 262.1,203.3C263.2,202 264.3,200.8 265.4,199.6C266.5,198.4 267.6,197.2 268.7,196C269.9,194.8 271.1,193.8 272.2,192.5C273.4,191.3 274.6,190.2 275.5,188.4C276.3,186.5 276.8,183.8 277.5,181.6C278.2,179.4 278.6,176.3 279.8,175C281.1,173.6 282.9,173.6 284.8,173.7C286.6,173.7 289,175.1 290.9,175.3C292.7,175.5 294.4,175.2 296,174.9C297.7,174.5 299,173.5 300.6,173.2C302.2,172.8 304,173 305.7,172.8C307.3,172.6 309,172.6 310.5,171.9C312,171.2 313.2,169.6 314.6,168.5C316,167.5 317.3,166.2 318.9,165.5C320.4,164.9 322.1,164.9 323.8,164.9C325.5,164.8 327.2,165.1 328.9,165.2C330.6,165.4 332.3,165.6 334,165.7C335.7,165.7 337.3,165.8 338.9,165.5C340.5,165.1 342,164.3 343.5,163.6C345.1,162.9 346.6,161.8 348.1,161.4C349.7,161.1 351.4,161.2 353.1,161.3C354.7,161.4 356.4,162 358,162C359.7,162.1 361.3,161.7 362.9,161.5C364.5,161.2 366.1,160.7 367.7,160.5C369.3,160.2 371,160.1 372.6,159.9C374.2,159.7 375.9,159.4 377.5,159.3Z" fill="#ffffff"/>
<path d="M117,223C119.4,219.9 121.4,220.7 123.2,221.2C125,221.7 126.1,224.4 128,226C129.9,227.6 133.6,229.4 134.4,230.8C135.2,232.2 134.1,233.6 132.8,234.5C131.5,235.4 128.5,235 126.4,236C124.3,237 122.1,238.6 120,240.4C117.9,242.2 115.8,247.1 114,247C112.2,246.9 108.5,244 109,240C109.5,236 114.6,226.1 117,223Z" fill="#8cc8ec"/>
<g fill="rgba(0,0,0,0.038)" stroke="#505050" stroke-width="1" stroke-linejoin="round">
<path d="M283.9,325.3 285.7,331.8 287.6,337.4 290.9,342.5 294.1,345.8 299.3,344.7 305.8,345.6 312.3,347.7 318.9,351.4 323.6,354.2 327.3,359.8 328.7,363.6 332,358 338.5,355.1 345,352.3 350.1,343.7 350.6,335.1 351.5,328.1 354.9,321.2 360.1,312.5 362.7,308.2 367.1,307.3 369.7,304.7 374,303 375.7,307.3 380.9,305.6 387.9,303 389.1,302.1 397.7,304.7 406.4,308.2 415.1,310.8 422,312.5 426.3,310.8 428.1,316.9 429.8,319.5 433.3,317.4 439.3,317.7 444.5,321.2 448.9,323.8 453.2,322.1 458.4,325.5 460.1,331.6 458.7,338.5 461,345.5 463.6,351.5 460.1,354.1 454.9,356.7 458.4,361.1 463.6,366.3 468.8,371.5 472.3,376.7 474.9,383.6 474,390.5 476,395.2 474.8,405.3 469.7,415.5 467.2,421.8 462.1,429.4 458.3,437 453.3,444.6 450.7,450.9 441.9,456 431.7,461.1 421.6,462.3 411.5,463.6 401.3,462.3 393.7,461.1 389.9,456 392.5,448.4 394.2,442.1 391.2,437 393.2,430.7 391.7,424.3 388.7,418 383.6,411.7 377.3,406.6 372.2,402.8 367.1,400.3 365.4,405.3 363.3,411.7 359.5,415.5 357,420.5 358.8,425.6 360.8,429.4 355.7,431.9 351.9,429.4 348.1,430.7 343.1,429.4 338,428.1 332.9,426.9 330.4,421.8 325.3,420.5 320.3,418 322.8,412.9 317.7,407.9 319,402.8 315.2,397.7 308.9,397.7 303.8,393.9 305.1,387.6 307.7,385 307.7,374.8 309.1,371 307.7,369.2 310.5,366.4 312.8,363.6 312.3,358 308.6,355.1 303,353.7 299.3,352.3 296.5,349.1 292.7,349.5 290.1,351.1 288.8,348.8 290.7,346.7 288.1,343 284.3,336.5 283.2,329Z"/>
<path d="M30,250 68.3,271.7 86.7,278.3 110,290 126.7,300 143.3,310 150,313.1 152.9,314.5 158.8,318.2 164.7,319.7 170.5,320.4 176.4,321.9 183.7,326.3 188.1,327.7 192.5,332.1 198.4,335.1 202.8,338 208.7,340.2 216,341.7 223.3,341.7 229.2,339.5 235.1,336.5 241.7,332.1 243.1,326.3 242.4,321.9 236.5,324.1 229.2,326.3 223.3,324.8 220.4,321.9 216,317.5 213.8,311.6 210.1,309.4 204.3,311.6 200.6,308.7 198.4,302.8 194,299.1 192.5,296.9 188.1,295.5 184.5,292.5 185.9,288.1 184.5,283 180.1,280.1 181.5,276.4 184,272.8 185.6,266.4 184.8,264.4 182.4,257.2 176,253.2 169.6,255.6 165.6,254 169.6,251.6 174.4,246.8 176.8,240.4 177.6,234 176,226 172.8,216.4 169.6,208.4 167.2,200.4 163.2,194 160,187.6 156.8,179.6 156.5,170 165,156.7 168.3,146.7 166.7,136.7 165,125 100,120Z"/>
<path d="M446.5,45.4 452.2,65.7 455.1,84.3 454.1,96.6 452.7,105.6 455.9,118.1 457.1,128.8 458.9,136.7 456,141.3 456.1,148 455.8,150.4 458.8,152.3 461,154.9 465.8,154.3 470.8,154.6 476.6,156.4 481.3,159.7 485.3,160.4 489.9,160.9 496.3,160.1 503.1,157.8 509.7,155.3 516.8,152.6 522.9,149.9 527.5,148.9 533.4,143.4 535,138.1 540.1,136.9 548.5,138.4 554.1,136.8 559.9,128.6 562.3,121.5 564.7,115.1 580.8,104.5Z"/>
<path d="M615.1,141.7 607.8,149.2 602,151.1 594.6,154 590.9,158.7 588.9,163.2 585.2,169.3 586,176.6 592.4,179.8 596.1,181.3 603.8,177.7 609.3,175 616.4,172.3 626.5,167.2 633.8,161.6Z"/>
<path d="M677.1,557.4 663.3,540.2 665.4,531.1 666.3,525.3 665.4,518.7 666.4,513.6 663,509.7 655.9,505.5 651.4,502.9 644.2,500.9 636.3,500.7 628.9,499.5 619.7,497.3 611.5,497 605,493.4 604.7,490.3 601.2,489.2 595.3,493 592.1,498 592,505.8 589,516 585,522.2 586.7,528.2 585.9,535.8 581.3,543.6 580.1,548.5 574.5,556.9 568.6,559.5 560.2,562.1 550.8,558.9 547.2,559.5 548.2,563.7 548.1,567.3 549.4,574 545.8,568.7 543.6,565.1 542.7,561 540.9,564 543.1,567.7 538.8,566.7 538,563.2 532.5,565.9 528.6,562.6 522.8,560.1 517.9,561.5 510.7,564.5 508.7,569.7 505.2,570.2 500.9,569.5 500,576.7 493.1,583.9 495.9,591.1 497.4,599.8 497.4,603.4 497.2,614.3 498.9,623.7 500.9,633 506.7,640.1 511,648.7 518.7,649.9 526.6,652.2 534.3,655.9 540.9,659.6 547.9,662.5 558.1,662.5 570.9,671.2Z"/>
<path d="M501.5,559.5 494.8,561.7 490.9,565.9 486.9,561.5 485,555.8 487.2,552.1 489.8,550.9 494.3,553.1 498.3,556.3Z"/>
<path d="M408.8,628.9 407.5,629 401.5,625 398.7,617.5 395.9,618.8 393.9,613.8 389.5,612.6 385.5,614.3 383.5,613.9 385.3,608.8 385.6,606.2 389.4,604.6 389.2,600.1 394.7,593.8 396.7,595.1 396,600.6 401.4,604.6 398.6,607.4 398.8,614 399.5,617 401.4,619.9 406.6,625Z"/>
<path d="M404.9,598.2 403,594.9 398.6,595.4 399,592.4 400.1,589.3 402.8,584.6 401.5,582.4 407.2,578.7 408.1,571.3 410.8,567.4 414.9,566.6 421.6,568.1 421.6,571 419,576.5 415.8,579.6 411.1,584.9 408.8,588.7 407.5,592.4 406.9,595.9Z"/>
<path d="M417.2,565.2 415.3,565.1 415.3,563.7 416.8,563.3Z"/>
<path d="M234.3,305 236,301.1 239.7,297.6 241,300.8 238.9,304.4 236.3,306.1Z"/>
<path d="M284,264.7 287.7,263 290.5,263.8 289.3,265.2 286.1,265.3Z"/>
<path d="M540.5,321.2 542.2,323.1 540.9,326.2 538.5,325.2 538.1,322.8Z"/>
<path d="M642.2,201.1 643.2,203.8 641.2,204.5 640.2,202.5Z"/>
<path d="M653.3,208 653.5,210.6 651.3,210.6 651.4,208.5Z"/>
<path d="M366.7,584 364.3,583.6 364.7,581.9 366.4,582.3Z"/>
</g>
<g fill="none" stroke="#505050" stroke-width="1" stroke-linejoin="round">
<path d="M295.1,355.6 301.1,355.1 306.7,356.1 310,358 310.9,361.7 307.7,364.5 303,366.4 302.1,361.7 303,358.9 299.3,357.5 296,357 295.1,355.6"/>
</g>
</g>
<circle cx="377.5" cy="384.4" r="328.0" fill="none" stroke="#000" stroke-width="1"/>
<g clip-path="url(#c)">
<g fill="none" stroke="#fff" stroke-width="1.3" stroke-linecap="round" stroke-linejoin="round">
<path d="M389.7,58.3C388.6,58.3 385.6,58.1 383.6,58.1C381.6,58.1 379.5,58.1 377.5,58.1C375.5,58.1 373.4,58.1 371.4,58.1C369.4,58.1 366.4,58.3 365.3,58.3 M368.3,55.8 L365.3,58.3 L368.5,60.6 M415.2,60.2C414.2,60.1 411.2,59.8 409.2,59.6C407.1,59.4 405.1,59.2 403.1,59.1C401.1,58.9 399.1,58.8 397,58.6C395,58.5 392,58.4 391,58.3 M394.2,56.1 L391,58.3 L394,60.9 M440.5,64.2C439.5,64 436.5,63.4 434.5,63.1C432.6,62.7 430.6,62.4 428.6,62.1C426.6,61.8 424.5,61.5 422.5,61.2C420.5,60.9 417.5,60.5 416.5,60.4 M419.9,58.4 L416.5,60.4 L419.3,63.1 M465.6,70.2C464.6,69.9 461.6,69.1 459.6,68.6C457.7,68 455.7,67.5 453.7,67.1C451.7,66.6 449.7,66.1 447.7,65.7C445.7,65.3 442.7,64.6 441.7,64.4 M445.2,62.7 L441.7,64.4 L444.3,67.4 M490,78.1C489,77.7 486.1,76.7 484.2,76C482.3,75.3 480.3,74.7 478.3,74C476.4,73.4 474.4,72.8 472.5,72.2C470.5,71.6 467.5,70.7 466.5,70.4 M470.2,69 L466.5,70.4 L468.9,73.6 M513.6,87.8C512.7,87.4 509.9,86.1 508,85.3C506.2,84.5 504.3,83.7 502.4,82.9C500.5,82.1 498.6,81.3 496.7,80.6C494.8,79.9 491.9,78.8 491,78.4 M494.7,77.2 L491,78.4 L493,81.7 M536.5,99.4C535.6,98.9 532.9,97.4 531.1,96.5C529.3,95.5 527.5,94.6 525.7,93.6C523.8,92.7 522,91.8 520.2,90.9C518.3,90 515.6,88.7 514.6,88.3 M518.5,87.4 L514.6,88.3 L516.4,91.7 M558.4,112.8C557.6,112.2 555,110.5 553.3,109.4C551.5,108.3 549.8,107.2 548,106.1C546.3,105.1 544.5,104 542.7,103C540.9,101.9 538.3,100.4 537.4,99.9 M541.2,99.3 L537.4,99.9 L538.9,103.5 M579.2,127.9C578.4,127.2 576,125.3 574.3,124.1C572.7,122.8 571,121.6 569.3,120.4C567.6,119.2 566,118 564.3,116.8C562.6,115.6 560,113.9 559.1,113.3 M563.1,113 L559.1,113.3 L560.4,117 M598.7,144.5C597.9,143.8 595.7,141.7 594.1,140.3C592.6,138.9 591,137.6 589.4,136.2C587.9,134.9 586.3,133.6 584.7,132.3C583.1,131 580.7,129 579.9,128.4 M583.8,128.4 L579.9,128.4 L580.8,132.2 M616.8,162.5C616.1,161.7 614,159.5 612.6,158C611.1,156.5 609.7,155.1 608.3,153.6C606.8,152.2 605.4,150.8 603.9,149.3C602.4,147.9 600.2,145.8 599.4,145.1 M603.3,145.5 L599.4,145.1 L600.1,149 M633.5,182C632.8,181.2 630.9,178.8 629.6,177.2C628.3,175.6 627,174 625.7,172.5C624.3,170.9 623,169.3 621.6,167.8C620.3,166.3 618.2,164 617.5,163.2 M621.3,163.9 L617.5,163.2 L617.8,167.1 M648.6,202.7C648,201.9 646.3,199.3 645.1,197.6C643.9,195.9 642.7,194.2 641.5,192.6C640.3,190.9 639.1,189.3 637.8,187.6C636.6,186 634.7,183.5 634.1,182.7 M637.9,183.7 L634.1,182.7 L634.1,186.6 M662,224.5C661.5,223.6 659.9,220.9 658.9,219.1C657.9,217.4 656.8,215.6 655.8,213.9C654.7,212.1 653.6,210.4 652.5,208.7C651.4,207 649.7,204.4 649.1,203.5 M652.9,204.8 L649.1,203.5 L648.9,207.5 M673.6,247.2C673.2,246.3 671.9,243.5 671,241.7C670.1,239.9 669.2,238 668.3,236.2C667.4,234.4 666.4,232.6 665.5,230.8C664.5,229.1 663,226.4 662.5,225.5 M666.2,227 L662.5,225.5 L662,229.4 M683.4,270.7C683,269.8 682,266.9 681.3,265.1C680.5,263.2 679.8,261.4 679,259.5C678.2,257.7 677.5,255.8 676.7,254C675.9,252.2 674.6,249.4 674.2,248.5 M677.7,250.3 L674.2,248.5 L673.3,252.3 M691.2,294.6C690.9,293.4 689.8,289.7 689,287.2C688.3,284.8 687.5,282.3 686.7,279.9C685.8,277.5 684.5,273.8 684.1,272.6 M687.4,274.7 L684.1,272.6 L682.9,276.4 M697.2,319.1C697,317.9 696.2,314.2 695.7,311.8C695.1,309.4 694.5,307 693.9,304.6C693.3,302.2 692.4,298.6 692,297.4 M695.2,299.8 L692,297.4 L690.6,301.1 M701.4,344.3C701.2,343.1 700.7,339.4 700.4,337C700,334.6 699.6,332.1 699.2,329.7C698.8,327.3 698.1,323.7 697.9,322.5 M700.9,325.1 L697.9,322.5 L696.1,326 M703.5,369.8C703.5,368.6 703.3,364.9 703.1,362.5C702.9,360 702.8,357.6 702.5,355.1C702.3,352.7 701.9,349 701.8,347.8 M704.5,350.6 L701.8,347.8 L699.8,351.2 M703.7,395.4C703.7,394.2 703.8,390.5 703.8,388.1C703.9,385.6 703.9,383.2 703.8,380.7C703.8,378.3 703.7,374.6 703.7,373.4 M706.2,376.4 L703.7,373.4 L701.4,376.6 M701.8,420.7C701.9,419.5 702.3,415.9 702.5,413.6C702.8,411.2 702.9,408.8 703.1,406.4C703.3,404.1 703.4,400.5 703.5,399.3 M705.8,402.5 L703.5,399.3 L701,402.3 M698,445.9C698.2,444.7 698.9,441.2 699.3,438.9C699.7,436.6 700,434.3 700.4,432C700.7,429.6 701.2,426.2 701.3,425 M703.3,428.4 L701.3,425 L698.5,427.8 M692.2,470.7C692.5,469.6 693.4,466.2 694,464C694.6,461.7 695.1,459.5 695.6,457.2C696.1,454.9 696.9,451.5 697.1,450.4 M698.8,453.9 L697.1,450.4 L694.1,452.9 M684.5,495.1C684.9,494 686,490.7 686.8,488.5C687.5,486.3 688.2,484.1 688.9,481.9C689.6,479.7 690.6,476.4 690.9,475.3 M692.4,479 L690.9,475.3 L687.8,477.6 M674.9,518.8C675.3,517.8 676.8,514.6 677.7,512.5C678.6,510.4 679.5,508.2 680.3,506.1C681.2,503.9 682.4,500.7 682.8,499.6 M684,503.4 L682.8,499.6 L679.5,501.7 M663.4,541.8C664,540.7 665.6,537.7 666.7,535.6C667.8,533.6 668.8,531.5 669.8,529.5C670.9,527.4 672.4,524.2 672.9,523.2 M673.7,527 L672.9,523.2 L669.4,525 M650.1,563.7C650.8,562.8 652.7,559.8 653.9,557.9C655.2,555.9 656.4,553.9 657.6,551.9C658.8,549.9 660.5,546.9 661.1,545.9 M661.6,549.8 L661.1,545.9 L657.5,547.4 M635.2,584.7C635.9,583.7 638,581 639.4,579.1C640.8,577.2 642.2,575.3 643.6,573.4C644.9,571.4 646.9,568.5 647.6,567.6 M647.8,571.5 L647.6,567.6 L643.9,568.8 M617.8,605.2C618.7,604.2 621.3,601.3 623.1,599.3C624.8,597.4 626.5,595.4 628.2,593.3C629.9,591.3 632.3,588.2 633.2,587.2 M633.1,591.1 L633.2,587.2 L629.4,588.2 M599.6,623.5C600.3,622.8 602.5,620.8 604,619.4C605.4,618 606.8,616.6 608.3,615.2C609.7,613.7 611.1,612.3 612.5,610.9C613.9,609.4 615.9,607.2 616.6,606.5 M616.3,610.4 L616.6,606.5 L612.7,607.1 M580.2,640.2C581.2,639.3 584.3,636.8 586.4,635.1C588.4,633.4 590.5,631.7 592.5,629.9C594.5,628.2 597.4,625.5 598.4,624.6 M597.8,628.5 L598.4,624.6 L594.5,624.9 M559.5,655.3C560.6,654.5 563.9,652.3 566.1,650.7C568.3,649.2 570.4,647.6 572.5,646.1C574.7,644.5 577.8,642 578.9,641.2 M577.9,645 L578.9,641.2 L574.9,641.2 M537.7,668.7C538.9,668 542.3,666.1 544.6,664.7C546.9,663.4 549.2,662 551.4,660.6C553.6,659.1 557,657 558.1,656.2 M556.8,660 L558.1,656.2 L554.2,656 M514.9,680.4C516.1,679.8 519.7,678.1 522.1,677C524.5,675.8 526.8,674.6 529.2,673.4C531.5,672.1 535,670.2 536.2,669.6 M534.6,673.2 L536.2,669.6 L532.3,669 M491.3,690.3C492.5,689.8 496.2,688.4 498.7,687.4C501.2,686.4 503.6,685.4 506.1,684.4C508.5,683.3 512.1,681.7 513.3,681.1 M511.5,684.6 L513.3,681.1 L509.5,680.2 M466.8,698.3C467.8,698 470.7,697.2 472.6,696.6C474.5,696 476.4,695.4 478.3,694.8C480.3,694.2 482.2,693.5 484.1,692.9C486,692.2 488.8,691.2 489.8,690.8 M487.7,694.2 L489.8,690.8 L486,689.6 M441.8,704.4C442.8,704.1 445.7,703.5 447.7,703.1C449.7,702.7 451.7,702.2 453.7,701.7C455.7,701.3 457.6,700.8 459.6,700.2C461.6,699.7 464.5,698.9 465.5,698.7 M463.2,701.8 L465.5,698.7 L461.9,697.2 M416.3,708.4C417.3,708.3 420.4,707.9 422.4,707.6C424.5,707.4 426.5,707.1 428.6,706.7C430.6,706.4 432.6,706.1 434.7,705.7C436.7,705.3 439.7,704.8 440.7,704.6 M438.2,707.5 L440.7,704.6 L437.2,702.8 M390.7,710.5C391.8,710.4 394.9,710.3 396.9,710.2C399,710 401,709.9 403.1,709.7C405.2,709.6 407.2,709.4 409.3,709.2C411.3,709 414.4,708.6 415.4,708.5 M412.6,711.3 L415.4,708.5 L412.1,706.5 M365.1,710.5C366.1,710.5 369.2,710.6 371.3,710.7C373.4,710.7 375.4,710.7 377.5,710.7C379.6,710.7 381.6,710.7 383.7,710.7C385.8,710.6 388.9,710.5 389.9,710.5 M386.9,713 L389.9,710.5 L386.7,708.2 M339.5,708.5C340.6,708.6 343.6,709 345.7,709.2C347.8,709.4 349.8,709.6 351.9,709.7C354,709.9 356,710 358.1,710.2C360.2,710.3 363.3,710.4 364.3,710.5 M361.1,712.8 L364.3,710.5 L361.3,708 M314.2,704.5C315.2,704.7 318.3,705.3 320.3,705.7C322.4,706.1 324.4,706.4 326.4,706.7C328.5,707.1 330.5,707.4 332.6,707.6C334.7,707.9 337.7,708.3 338.8,708.4 M335.4,710.5 L338.8,708.4 L336,705.7 M289.4,698.6C290.3,698.9 293.3,699.7 295.3,700.2C297.3,700.7 299.3,701.2 301.3,701.7C303.3,702.2 305.3,702.7 307.3,703.1C309.3,703.6 312.4,704.2 313.4,704.4 M309.9,706.1 L313.4,704.4 L310.8,701.4 M265,690.7C266,691.1 268.9,692.1 270.8,692.8C272.8,693.5 274.7,694.1 276.7,694.8C278.6,695.4 280.6,696 282.5,696.6C284.5,697.2 287.5,698.1 288.4,698.4 M284.8,699.8 L288.4,698.4 L286.1,695.2 M241.3,681C242.2,681.4 245,682.7 246.9,683.5C248.8,684.3 250.7,685.1 252.6,685.9C254.5,686.7 256.4,687.5 258.3,688.2C260.3,689 263.2,690.1 264.1,690.4 M260.4,691.6 L264.1,690.4 L262.1,687.1 M218.4,669.3C219.3,669.8 222,671.3 223.8,672.3C225.7,673.3 227.5,674.2 229.3,675.2C231.2,676.1 233,677 234.9,677.9C236.7,678.8 239.6,680.1 240.5,680.6 M236.7,681.5 L240.5,680.6 L238.7,677.1 M196.5,655.9C197.3,656.5 199.9,658.2 201.7,659.3C203.5,660.5 205.2,661.6 207,662.7C208.8,663.7 210.5,664.8 212.3,665.9C214.1,666.9 216.8,668.4 217.7,669 M213.9,669.5 L217.7,669 L216.2,665.4 M175.7,640.8C176.5,641.5 179,643.4 180.6,644.7C182.3,645.9 184,647.2 185.7,648.4C187.4,649.7 189.1,650.9 190.8,652.1C192.5,653.3 195.1,655 196,655.6 M192.1,655.9 L196,655.6 L194.7,651.9 M156.1,624.2C156.9,624.9 159.2,627 160.8,628.4C162.4,629.8 164,631.2 165.6,632.6C167.2,633.9 168.8,635.3 170.4,636.6C172,638 174.5,639.9 175.3,640.6 M171.4,640.5 L175.3,640.6 L174.4,636.8 M137.9,605.9C138.6,606.7 140.8,609.1 142.3,610.6C143.7,612.1 145.2,613.7 146.7,615.2C148.2,616.7 149.8,618.2 151.3,619.6C152.8,621.1 155.2,623.3 156,624 M152.1,623.7 L156,624 L155.3,620.2 M121.1,586.3C121.8,587.1 123.8,589.7 125.2,591.3C126.5,593 127.9,594.7 129.3,596.3C130.8,598 132.2,599.6 133.6,601.3C135.1,602.9 137.3,605.3 138,606.1 M134.1,605.4 L138,606.1 L137.7,602.2 M105.8,565.2C106.5,566.2 108.3,568.9 109.6,570.8C110.9,572.6 112.2,574.4 113.5,576.2C114.8,578 116.1,579.8 117.5,581.6C118.8,583.4 120.9,586 121.6,586.9 M117.8,585.9 L121.6,586.9 L121.5,583 M92.4,543.2C93,544.2 94.6,547.2 95.8,549.1C96.9,551.1 98.1,553 99.2,554.9C100.4,556.8 101.6,558.7 102.8,560.6C104.1,562.5 105.9,565.4 106.5,566.3 M102.8,565.1 L106.5,566.3 L106.8,562.4 M80.8,520.3C81.3,521.3 82.7,524.4 83.7,526.5C84.7,528.5 85.7,530.5 86.7,532.6C87.8,534.6 88.8,536.6 89.9,538.6C90.9,540.6 92.6,543.6 93.2,544.6 M89.5,543 L93.2,544.6 L93.7,540.7 M71,496.6C71.4,497.6 72.6,500.8 73.5,503C74.3,505.1 75.1,507.2 76,509.3C76.9,511.4 77.8,513.5 78.7,515.6C79.6,517.6 81,520.7 81.5,521.8 M78,520 L81.5,521.8 L82.3,518 M63.2,472.2C63.5,473.3 64.4,476.6 65.1,478.7C65.7,480.9 66.4,483.1 67.1,485.2C67.8,487.4 68.6,489.6 69.3,491.7C70,493.8 71.2,497 71.6,498.1 M68.3,496 L71.6,498.1 L72.8,494.4 M57.3,447.3C57.5,448.4 58.2,451.7 58.6,453.9C59.1,456.2 59.6,458.4 60.2,460.6C60.7,462.8 61.3,465 61.8,467.2C62.4,469.4 63.3,472.7 63.6,473.8 M60.5,471.5 L63.6,473.8 L65.1,470.1 M53.3,421.8C53.4,422.9 53.9,426.4 54.2,428.6C54.5,430.9 54.8,433.2 55.2,435.5C55.5,437.7 55.9,440 56.3,442.2C56.7,444.5 57.4,447.9 57.6,449 M54.6,446.5 L57.6,449 L59.4,445.5 M51.4,396.1C51.4,397.3 51.6,400.8 51.7,403.1C51.8,405.4 52,407.7 52.2,410C52.3,412.3 52.5,414.6 52.8,416.9C53,419.2 53.4,422.7 53.5,423.8 M50.8,421 L53.5,423.8 L55.6,420.5 M51.4,370.5C51.4,371.7 51.3,375.1 51.2,377.5C51.2,379.8 51.2,382.1 51.2,384.4C51.2,386.7 51.2,389 51.2,391.3C51.3,393.7 51.4,397.1 51.4,398.3 M48.9,395.3 L51.4,398.3 L53.7,395.1 M53.5,345.4C53.4,346.5 53,349.8 52.8,352.1C52.5,354.3 52.3,356.6 52.2,358.8C52,361 51.8,363.3 51.7,365.5C51.6,367.8 51.4,371.2 51.4,372.3 M49.1,369.1 L51.4,372.3 L53.9,369.3 M57.4,320.8C57.2,321.8 56.6,325 56.2,327.1C55.9,329.1 55.5,331.2 55.2,333.3C54.8,335.4 54.5,337.6 54.2,339.7C53.9,341.8 53.6,344.9 53.4,346 M51.4,342.6 L53.4,346 L56.2,343.2 M63.3,296C63.1,297 62.2,300.1 61.7,302.1C61.2,304.1 60.7,306.2 60.2,308.2C59.7,310.3 59.2,312.3 58.8,314.4C58.3,316.4 57.7,319.5 57.5,320.5 M55.7,317 L57.5,320.5 L60.4,317.9 M71.2,271.8C70.8,272.8 69.8,275.7 69.1,277.7C68.4,279.6 67.8,281.6 67.1,283.6C66.5,285.5 65.9,287.5 65.3,289.5C64.7,291.4 63.8,294.4 63.5,295.4 M62.1,291.8 L63.5,295.4 L66.7,293.1 M80.9,248.3C80.5,249.2 79.2,252 78.4,253.9C77.6,255.7 76.8,257.6 76,259.5C75.2,261.4 74.4,263.3 73.7,265.2C73,267.1 71.9,270 71.5,270.9 M70.3,267.2 L71.5,270.9 L74.8,268.9 M92.5,225.4C92,226.3 90.5,229 89.6,230.8C88.6,232.6 87.7,234.4 86.7,236.2C85.8,238.1 84.9,239.9 84,241.8C83.1,243.6 81.8,246.4 81.3,247.3 M80.5,243.5 L81.3,247.3 L84.8,245.5 M105.8,203.6C105.3,204.4 103.6,207 102.5,208.7C101.4,210.4 100.3,212.1 99.2,213.9C98.2,215.6 97.1,217.4 96.1,219.1C95.1,220.9 93.6,223.5 93.1,224.4 M92.5,220.5 L93.1,224.4 L96.7,222.9 M120.7,183C120.1,183.8 118.3,186.1 117.1,187.7C115.9,189.3 114.7,191 113.5,192.6C112.3,194.2 111.1,195.8 110,197.5C108.8,199.1 107.1,201.6 106.6,202.5 M106.3,198.6 L106.6,202.5 L110.3,201.2 M137.1,163.7C136.3,164.6 133.6,167.5 131.9,169.5C130.2,171.5 128.5,173.4 126.8,175.5C125.1,177.5 122.7,180.5 121.9,181.5 M121.9,177.6 L121.9,181.5 L125.7,180.6 M155.1,145.5C154.2,146.4 151.4,149.1 149.5,150.9C147.6,152.7 145.8,154.5 144,156.4C142.2,158.3 139.5,161.1 138.6,162 M139,158.1 L138.6,162 L142.5,161.4 M174.6,128.8C173.6,129.6 170.6,132 168.6,133.7C166.5,135.4 164.6,137.1 162.6,138.8C160.6,140.5 157.7,143.2 156.7,144 M157.4,140.2 L156.7,144 L160.7,143.7 M195.4,113.6C194.3,114.3 191,116.5 188.9,118.1C186.7,119.6 184.6,121.1 182.5,122.7C180.4,124.3 177.2,126.7 176.2,127.5 M177.2,123.7 L176.2,127.5 L180.1,127.5 M217.3,100.1C216.2,100.7 212.7,102.7 210.4,104.1C208.1,105.4 205.8,106.8 203.6,108.3C201.3,109.7 198,111.9 196.9,112.6 M198.1,108.9 L196.9,112.6 L200.8,112.9 M240.2,88.4C239.2,88.8 236.5,90.1 234.7,90.9C232.9,91.8 231.1,92.7 229.3,93.6C227.6,94.5 225.8,95.5 224,96.4C222.2,97.3 219.6,98.8 218.7,99.3 M220.3,95.7 L218.7,99.3 L222.6,99.9 M263.8,78.5C262.5,79 258.8,80.4 256.3,81.4C253.8,82.4 251.4,83.4 248.9,84.4C246.5,85.5 242.8,87.1 241.6,87.7 M243.4,84.2 L241.6,87.7 L245.4,88.6 M288.1,70.5C286.8,70.9 283,72 280.5,72.8C277.9,73.6 275.4,74.4 272.9,75.3C270.4,76.1 266.6,77.5 265.4,77.9 M267.4,74.6 L265.4,77.9 L269.1,79.1 M313.1,64.5C312.1,64.7 309.1,65.3 307.2,65.7C305.2,66.2 303.3,66.6 301.3,67.1C299.4,67.5 297.4,68 295.5,68.5C293.5,69 290.6,69.8 289.7,70.1 M292,67 L289.7,70.1 L293.3,71.6 M338.4,60.4C337.4,60.5 334.4,60.9 332.4,61.2C330.4,61.5 328.4,61.8 326.4,62.1C324.5,62.4 322.5,62.7 320.5,63.1C318.5,63.4 315.5,64 314.5,64.2 M317.1,61.2 L314.5,64.2 L318,65.9 M364,58.3C363,58.4 360,58.5 358,58.6C355.9,58.8 353.9,58.9 351.9,59.1C349.9,59.2 347.9,59.4 345.8,59.6C343.8,59.8 340.8,60.1 339.8,60.2 M342.6,57.5 L339.8,60.2 L343.2,62.3 M388.4,79.5C387.2,79.5 383.6,79.4 381.1,79.4C378.7,79.3 376.3,79.3 373.9,79.4C371.4,79.4 367.8,79.5 366.6,79.5 M369.6,77 L366.6,79.5 L369.8,81.8 M412.3,81.3C411.1,81.2 407.5,80.8 405,80.6C402.6,80.4 400.2,80.2 397.8,80C395.4,79.9 391.8,79.7 390.6,79.6 M393.8,77.4 L390.6,79.6 L393.6,82.2 M436,85C434.8,84.8 431.2,84.1 428.8,83.7C426.4,83.3 424,82.9 421.6,82.6C419.2,82.2 415.6,81.8 414.4,81.6 M417.8,79.6 L414.4,81.6 L417.2,84.3 M459.5,90.6C458.3,90.3 454.7,89.3 452.3,88.7C449.9,88.1 447.5,87.5 445.1,86.9C442.7,86.4 439,85.6 437.8,85.4 M441.3,83.6 L437.8,85.4 L440.4,88.3 M482.4,98C481.3,97.5 477.7,96.3 475.3,95.5C473,94.7 470.6,93.9 468.2,93.1C465.8,92.4 462.2,91.3 461,91 M464.6,89.5 L461,91 L463.3,94.1 M504.5,107C503.4,106.5 500,105 497.7,104C495.4,103 493.1,102.1 490.8,101.2C488.5,100.2 485,98.9 483.8,98.5 M487.6,97.3 L483.8,98.5 L485.9,101.8 M525.8,117.8C524.7,117.2 521.5,115.5 519.3,114.3C517.1,113.2 514.9,112 512.7,110.9C510.5,109.8 507.1,108.3 506,107.7 M509.8,106.9 L506,107.7 L507.8,111.2 M546.4,130.4C545.4,129.7 542.2,127.6 540.1,126.3C538,125 535.8,123.6 533.7,122.3C531.5,121.1 528.2,119.2 527.1,118.6 M531,118 L527.1,118.6 L528.6,122.2 M565.9,144.5C564.9,143.7 561.9,141.4 559.9,139.9C557.8,138.4 555.8,136.9 553.7,135.4C551.6,133.9 548.5,131.8 547.4,131.1 M551.3,130.8 L547.4,131.1 L548.7,134.8 M584.2,160C583.2,159.2 580.4,156.6 578.5,154.9C576.6,153.3 574.7,151.6 572.7,150C570.8,148.4 567.8,146 566.8,145.2 M570.7,145.2 L566.8,145.2 L567.7,149 M601,176.7C600.1,175.8 597.6,173.1 595.8,171.3C594.1,169.6 592.3,167.8 590.6,166.1C588.8,164.3 586.1,161.8 585.2,160.9 M589.1,161.3 L585.2,160.9 L585.8,164.8 M616.6,195C615.8,194 613.5,191.1 611.9,189.2C610.3,187.2 608.7,185.3 607,183.4C605.4,181.6 602.8,178.8 602,177.9 M605.9,178.5 L602,177.9 L602.3,181.8 M630.8,214.4C630.1,213.3 627.9,210.2 626.5,208.2C625,206.1 623.6,204.1 622.1,202.1C620.5,200 618.2,197.1 617.5,196.1 M621.3,197 L617.5,196.1 L617.5,200 M643.3,234.6C642.6,233.6 640.8,230.3 639.5,228.2C638.3,226.1 637,224 635.6,221.9C634.3,219.8 632.3,216.6 631.6,215.6 M635.3,216.9 L631.6,215.6 L631.3,219.5 M654.1,255.8C653.6,254.7 652,251.4 650.9,249.2C649.9,247 648.8,244.8 647.6,242.7C646.5,240.5 644.7,237.3 644.2,236.2 M647.8,237.8 L644.2,236.2 L643.6,240.1 M663.2,277.5C662.8,276.4 661.5,273.1 660.7,270.9C659.8,268.7 658.9,266.6 658,264.4C657,262.2 655.6,259 655.1,257.9 M658.6,259.8 L655.1,257.9 L654.2,261.7 M670.6,299.9C670.3,298.8 669.3,295.5 668.7,293.4C668,291.2 667.3,289.1 666.6,286.9C665.8,284.8 664.7,281.6 664.3,280.5 M667.6,282.6 L664.3,280.5 L663.1,284.2 M676.3,323C676.1,321.9 675.4,318.6 674.9,316.4C674.4,314.3 673.9,312.1 673.3,309.9C672.8,307.8 671.9,304.6 671.6,303.5 M674.8,305.8 L671.6,303.5 L670.1,307.1 M680.2,346.6C680,345.5 679.6,342.2 679.3,340C679,337.8 678.6,335.6 678.3,333.4C677.9,331.2 677.3,327.9 677.1,326.9 M680,329.5 L677.1,326.9 L675.3,330.4 M682.2,370.4C682.2,369.3 682,366 681.9,363.8C681.7,361.6 681.5,359.4 681.3,357.2C681.1,355 680.8,351.7 680.7,350.6 M683.4,353.4 L680.7,350.6 L678.6,353.9 M682.4,394.3C682.4,393.2 682.5,389.9 682.5,387.7C682.6,385.5 682.6,383.3 682.5,381.1C682.5,378.9 682.4,375.6 682.4,374.5 M684.9,377.5 L682.4,374.5 L680.1,377.7 M680.7,418.1C680.8,417 681.1,413.7 681.3,411.6C681.5,409.4 681.7,407.3 681.8,405.1C682,402.9 682.2,399.7 682.2,398.6 M684.5,401.8 L682.2,398.6 L679.7,401.6 M677.1,441.6C677.3,440.6 677.9,437.4 678.3,435.3C678.6,433.2 679,431.1 679.3,428.9C679.6,426.8 680,423.6 680.2,422.6 M682.1,426 L680.2,422.6 L677.4,425.4 M671.8,464.9C672,463.8 672.8,460.8 673.4,458.7C673.9,456.6 674.4,454.6 674.8,452.5C675.3,450.5 676,447.3 676.2,446.3 M677.9,449.8 L676.2,446.3 L673.2,448.9 M664.6,487.6C664.9,486.6 666,483.7 666.6,481.7C667.3,479.7 668,477.7 668.6,475.7C669.2,473.7 670.1,470.6 670.4,469.6 M671.8,473.3 L670.4,469.6 L667.2,471.9 M655.6,509.9C656,508.9 657.3,506 658.1,504.1C658.9,502.1 659.7,500.2 660.5,498.2C661.3,496.2 662.4,493.3 662.8,492.3 M664,496.1 L662.8,492.3 L659.5,494.4 M644.8,531.4C645.3,530.4 646.8,527.6 647.8,525.7C648.8,523.8 649.8,521.9 650.7,520C651.7,518.1 653.1,515.2 653.5,514.3 M654.4,518.1 L653.5,514.3 L650,516 M632.4,552C633,551.1 634.7,548.4 635.9,546.5C637,544.7 638.2,542.9 639.3,541C640.4,539.2 642,536.4 642.5,535.4 M643.1,539.3 L642.5,535.4 L638.9,536.9 M618.4,571.6C619,570.7 621,568.1 622.3,566.3C623.7,564.6 624.9,562.8 626.2,561C627.5,559.3 629.3,556.5 629.9,555.7 M630.2,559.6 L629.9,555.7 L626.2,556.9 M602.6,590.3C603.3,589.5 605.7,586.9 607.2,585.1C608.7,583.4 610.2,581.6 611.7,579.9C613.2,578.1 615.4,575.4 616.1,574.5 M616,578.4 L616.1,574.5 L612.3,575.4 M585.5,607.5C586.4,606.7 589,604.3 590.7,602.6C592.4,600.9 594,599.3 595.7,597.6C597.4,595.9 599.8,593.3 600.6,592.4 M600.2,596.3 L600.6,592.4 L596.7,593.1 M567.4,623.1C568.3,622.4 571.1,620.2 572.9,618.6C574.7,617.1 576.5,615.6 578.3,614C580.1,612.5 582.7,610.1 583.6,609.3 M582.9,613.2 L583.6,609.3 L579.7,609.7 M548.2,637.2C549.1,636.6 552,634.6 553.9,633.2C555.9,631.9 557.8,630.5 559.6,629.1C561.5,627.7 564.3,625.6 565.2,624.8 M564.3,628.6 L565.2,624.8 L561.3,624.9 M527.8,649.9C528.8,649.3 531.9,647.5 533.9,646.3C535.9,645.1 537.9,643.9 539.9,642.6C541.9,641.4 544.8,639.5 545.8,638.8 M544.5,642.5 L545.8,638.8 L541.9,638.5 M506.5,660.8C507.6,660.3 510.8,658.8 512.9,657.8C514.9,656.7 517,655.7 519.1,654.6C521.2,653.5 524.3,651.8 525.3,651.3 M523.7,654.9 L525.3,651.3 L521.4,650.7 M484.4,670.1C485.5,669.7 488.8,668.4 491,667.6C493.2,666.7 495.3,665.8 497.5,664.9C499.6,663.9 502.8,662.5 503.9,662 M502.1,665.5 L503.9,662 L500.1,661.1 M461.5,677.7C462.7,677.3 466.1,676.3 468.4,675.6C470.6,674.9 472.9,674.2 475.2,673.4C477.4,672.6 480.8,671.4 481.9,671 M479.8,674.3 L481.9,671 L478.2,669.8 M438,683.4C439.1,683.1 442.7,682.4 445.1,681.9C447.5,681.3 449.9,680.7 452.3,680.1C454.7,679.5 458.2,678.6 459.4,678.3 M457,681.4 L459.4,678.3 L455.8,676.8 M414,687.3C415.2,687.1 419,686.6 421.5,686.3C424,685.9 426.5,685.5 429,685.1C431.4,684.7 435.2,683.9 436.4,683.7 M433.8,686.7 L436.4,683.7 L432.9,682 M390,689.2C391.3,689.1 395.1,689 397.6,688.8C400.2,688.6 402.7,688.4 405.2,688.2C407.8,688 411.5,687.5 412.8,687.4 M410,690.1 L412.8,687.4 L409.4,685.4 M366.1,689.2C367.4,689.3 371.2,689.4 373.7,689.4C376.2,689.5 378.8,689.5 381.3,689.4C383.8,689.4 387.6,689.3 388.9,689.2 M385.9,691.8 L388.9,689.2 L385.7,687 M342.1,687.4C343.4,687.5 347.2,688 349.7,688.2C352.3,688.4 354.8,688.6 357.4,688.8C359.9,689 363.8,689.1 365.1,689.2 M361.9,691.5 L365.1,689.2 L362.1,686.7 M318.4,683.7C319.7,683.9 323.5,684.6 326,685.1C328.5,685.5 331,685.9 333.6,686.3C336.1,686.6 339.9,687.1 341.2,687.3 M337.8,689.3 L341.2,687.3 L338.4,684.5 M295.3,678.2C296.5,678.5 300.2,679.5 302.6,680.1C305.1,680.7 307.5,681.3 310,681.9C312.4,682.4 316.1,683.2 317.4,683.5 M313.9,685.2 L317.4,683.5 L314.8,680.5 M272.6,670.8C273.7,671.2 277.3,672.5 279.7,673.3C282,674.1 284.4,674.9 286.8,675.7C289.2,676.4 292.8,677.5 294,677.8 M290.4,679.3 L294,677.8 L291.7,674.7 M250.3,661.7C251.5,662.2 254.9,663.8 257.3,664.8C259.6,665.8 261.9,666.7 264.3,667.7C266.6,668.6 270.2,669.9 271.3,670.4 M267.6,671.6 L271.3,670.4 L269.3,667.1 M228.9,650.8C230.1,651.4 233.4,653.3 235.6,654.5C237.9,655.6 240.1,656.8 242.4,657.9C244.7,659 248.1,660.6 249.3,661.2 M245.5,662.1 L249.3,661.2 L247.5,657.7 M208.4,638.3C209.5,639 212.7,641.1 214.8,642.5C217,643.8 219.2,645.2 221.4,646.5C223.6,647.8 227,649.7 228.1,650.3 M224.2,650.9 L228.1,650.3 L226.6,646.7 M188.9,624.2C189.9,624.9 193,627.3 195.1,628.9C197.1,630.4 199.2,632 201.4,633.5C203.5,635 206.7,637.1 207.8,637.9 M203.9,638.1 L207.8,637.9 L206.5,634.1 M170.6,608.6C171.6,609.4 174.5,612.1 176.4,613.8C178.4,615.5 180.4,617.2 182.4,618.9C184.4,620.6 187.4,623 188.5,623.8 M184.5,623.8 L188.5,623.8 L187.5,620 M153.6,591.6C154.5,592.5 157.2,595.4 159,597.3C160.9,599.2 162.7,601 164.6,602.9C166.5,604.7 169.4,607.4 170.3,608.3 M166.4,608 L170.3,608.3 L169.7,604.4 M137.9,573.2C138.8,574.3 141.3,577.4 143,579.5C144.7,581.5 146.4,583.5 148.2,585.5C149.9,587.5 152.6,590.5 153.5,591.5 M149.6,590.8 L153.5,591.5 L153.2,587.6 M123.8,553.7C124.3,554.6 126,557.1 127.2,558.7C128.3,560.4 129.5,562.1 130.7,563.7C131.9,565.3 133.1,567 134.3,568.6C135.6,570.2 137.4,572.6 138.1,573.4 M134.3,572.5 L138.1,573.4 L138,569.5 M111.2,533.2C111.7,534.1 113.2,536.8 114.3,538.5C115.3,540.3 116.3,542 117.4,543.8C118.5,545.5 119.6,547.3 120.7,549C121.8,550.7 123.5,553.2 124,554.1 M120.3,552.9 L124,554.1 L124.3,550.2 M100.3,511.8C100.8,512.7 102.1,515.5 103,517.4C103.9,519.2 104.8,521.1 105.7,522.9C106.6,524.7 107.6,526.5 108.5,528.3C109.5,530.2 111,532.8 111.5,533.7 M107.9,532.2 L111.5,533.7 L112.1,529.9 M91.2,489.7C91.6,490.6 92.6,493.5 93.4,495.4C94.1,497.3 94.9,499.2 95.7,501.1C96.5,503 97.3,504.9 98.1,506.8C98.9,508.7 100.2,511.5 100.6,512.4 M97.1,510.6 L100.6,512.4 L101.5,508.6 M83.8,466.9C84.1,467.9 84.9,470.8 85.5,472.8C86.1,474.8 86.7,476.7 87.4,478.7C88,480.6 88.7,482.6 89.3,484.5C90,486.4 91.1,489.3 91.4,490.3 M88.1,488.2 L91.4,490.3 L92.6,486.5 M78.2,443.5C78.4,444.6 79.1,447.6 79.5,449.6C79.9,451.6 80.4,453.6 80.9,455.6C81.4,457.6 81.9,459.6 82.4,461.6C82.9,463.6 83.7,466.6 84,467.6 M80.9,465.2 L84,467.6 L85.5,463.9 M74.5,419.7C74.6,420.8 75,423.9 75.3,425.9C75.6,428 75.9,430.1 76.2,432.1C76.5,434.2 76.9,436.2 77.2,438.3C77.6,440.3 78.2,443.4 78.4,444.4 M75.5,441.9 L78.4,444.4 L80.2,440.9 M72.7,395.8C72.7,396.8 72.8,400 73,402.1C73.1,404.2 73.2,406.2 73.4,408.3C73.6,410.4 73.7,412.5 73.9,414.6C74.2,416.7 74.5,419.8 74.6,420.9 M71.9,418.1 L74.6,420.9 L76.6,417.5 M72.7,371.9C72.7,373 72.6,376.1 72.5,378.2C72.5,380.2 72.4,382.3 72.4,384.4C72.4,386.5 72.5,388.6 72.5,390.6C72.6,392.7 72.7,395.8 72.7,396.9 M70.2,393.9 L72.7,396.9 L75,393.7 M74.6,348.5C74.5,349.5 74.1,352.5 73.9,354.5C73.7,356.5 73.5,358.5 73.4,360.5C73.2,362.5 73.1,364.5 73,366.5C72.9,368.5 72.7,371.5 72.7,372.5 M70.4,369.3 L72.7,372.5 L75.2,369.5 M78.3,325.2C78,326.4 77.3,330.3 76.8,332.8C76.4,335.4 76,338 75.6,340.5C75.2,343.1 74.8,347 74.6,348.3 M72.6,344.9 L74.6,348.3 L77.3,345.5 M83.8,301.9C83.5,303.2 82.4,306.9 81.8,309.4C81.2,311.9 80.6,314.4 80,317C79.4,319.5 78.7,323.3 78.4,324.5 M76.6,321 L78.4,324.5 L81.3,322 M91.1,279.4C90.7,280.6 89.4,284.1 88.6,286.5C87.8,288.9 87,291.3 86.2,293.8C85.5,296.2 84.4,299.8 84.1,301 M82.6,297.4 L84.1,301 L87.2,298.7 M100.1,257.4C99.6,258.6 98.1,261.9 97.1,264.2C96.1,266.5 95.2,268.8 94.3,271.1C93.3,273.4 92,276.9 91.6,278.1 M90.4,274.3 L91.6,278.1 L94.9,276 M111,236C110.4,237.1 108.6,240.4 107.4,242.6C106.3,244.8 105.1,247 104,249.3C102.9,251.5 101.3,254.9 100.8,256 M99.9,252.2 L100.8,256 L104.3,254.2 M123.4,215.7C122.7,216.7 120.7,219.8 119.3,221.9C118,224 116.8,226.1 115.5,228.2C114.2,230.3 112.4,233.5 111.8,234.5 M111.2,230.7 L111.8,234.5 L115.4,233 M137.1,196.6C136.4,197.5 134.2,200.3 132.8,202.2C131.4,204.1 130,206.1 128.6,208C127.3,209.9 125.3,212.9 124.6,213.9 M124.3,209.9 L124.6,213.9 L128.3,212.6 M152.3,178.6C151.6,179.5 149.3,182 147.8,183.7C146.3,185.4 144.8,187.1 143.3,188.9C141.9,190.6 139.7,193.3 139,194.2 M139.1,190.3 L139,194.2 L142.8,193.3 M169.1,161.6C168.3,162.4 165.8,164.7 164.2,166.3C162.6,167.9 161,169.5 159.4,171.1C157.8,172.7 155.5,175.2 154.7,176 M155.1,172.1 L154.7,176 L158.6,175.4 M187.3,145.9C186.5,146.6 183.8,148.7 182,150.2C180.3,151.7 178.5,153.2 176.8,154.7C175.1,156.2 172.5,158.5 171.7,159.3 M172.3,155.4 L171.7,159.3 L175.6,159 M206.7,131.6C205.8,132.3 202.9,134.2 201,135.6C199.1,136.9 197.3,138.3 195.4,139.7C193.5,141.1 190.8,143.2 189.9,143.9 M190.8,140.1 L189.9,143.9 L193.8,143.9 M227.2,118.9C226.2,119.5 223.1,121.3 221.1,122.5C219.1,123.7 217.1,124.9 215.1,126.2C213.1,127.4 210.2,129.3 209.2,130 M210.5,126.3 L209.2,130 L213.1,130.3 M248.6,107.9C247.5,108.5 244.3,110 242.2,111C240.1,112.1 238,113.1 235.9,114.2C233.8,115.3 230.7,117 229.6,117.6 M231.2,114 L229.6,117.6 L233.5,118.2 M270.6,98.7C269.5,99.1 266.2,100.4 264,101.2C261.8,102.1 259.7,103 257.5,103.9C255.4,104.9 252.2,106.3 251.1,106.8 M252.9,103.3 L251.1,106.8 L254.9,107.7 M293.3,91.2C292.1,91.5 288.8,92.5 286.6,93.2C284.3,93.9 282.1,94.6 279.9,95.4C277.7,96.1 274.4,97.3 273.3,97.7 M275.4,94.4 L273.3,97.7 L277,98.9 M316.7,85.5C315.6,85.7 312.1,86.4 309.8,87C307.4,87.5 305.1,88 302.8,88.6C300.5,89.2 297.1,90.1 295.9,90.5 M298.3,87.3 L295.9,90.5 L299.6,91.9 M340.5,81.6C339.3,81.8 335.7,82.2 333.3,82.6C331,82.9 328.6,83.3 326.2,83.7C323.9,84.1 320.3,84.8 319.1,85 M321.7,82 L319.1,85 L322.6,86.7 M364.4,79.6C363.2,79.7 359.6,79.9 357.2,80C354.8,80.2 352.4,80.4 350,80.6C347.5,80.8 343.9,81.2 342.7,81.3 M345.5,78.6 L342.7,81.3 L346.1,83.4 M386.9,100.9C385.8,100.8 382.7,100.8 380.6,100.7C378.5,100.7 376.5,100.7 374.4,100.7C372.3,100.8 369.2,100.8 368.1,100.9 M371.2,98.4 L368.1,100.9 L371.3,103.2 M409,102.5C408,102.4 404.9,102 402.9,101.8C400.8,101.7 398.7,101.5 396.7,101.4C394.6,101.2 391.5,101.1 390.4,101 M393.7,98.8 L390.4,101 L393.4,103.5 M431.1,105.8C430.1,105.6 427,105.1 425,104.7C422.9,104.4 420.9,104 418.8,103.7C416.7,103.4 413.7,103 412.6,102.9 M416,100.9 L412.6,102.9 L415.4,105.7 M453,110.9C452,110.7 448.9,109.8 446.8,109.3C444.8,108.8 442.7,108.3 440.6,107.8C438.5,107.4 435.4,106.7 434.4,106.5 M437.9,104.7 L434.4,106.5 L436.9,109.4 M474.4,117.8C473.4,117.4 470.3,116.3 468.2,115.6C466.2,114.9 464.1,114.3 462.1,113.6C460,113 456.9,112.1 455.8,111.7 M459.5,110.3 L455.8,111.7 L458.2,114.9 M494.8,126.1C493.8,125.7 490.9,124.4 489,123.5C487,122.7 485.1,121.9 483.1,121.1C481.2,120.3 478.2,119.2 477.2,118.8 M481,117.7 L477.2,118.8 L479.3,122.1 M514.6,136C513.6,135.5 510.9,134 509.1,133.1C507.2,132.1 505.4,131.2 503.5,130.2C501.6,129.3 498.8,128 497.9,127.5 M501.7,126.7 L497.9,127.5 L499.7,131 M533.8,147.7C532.9,147.1 530.2,145.3 528.4,144.2C526.6,143.1 524.8,142 523,140.9C521.2,139.8 518.4,138.2 517.5,137.7 M521.4,137.1 L517.5,137.7 L519,141.3 M552.1,160.8C551.2,160.2 548.6,158.1 546.9,156.8C545.1,155.5 543.4,154.2 541.6,153C539.8,151.7 537.1,149.9 536.2,149.2 M540.1,149 L536.2,149.2 L537.4,153 M569.1,175.2C568.3,174.5 565.9,172.3 564.2,170.8C562.6,169.4 560.9,168 559.2,166.6C557.6,165.2 555,163.1 554.2,162.4 M558.1,162.5 L554.2,162.4 L555.1,166.2 M584.7,190.6C584,189.9 581.8,187.6 580.3,186.1C578.8,184.5 577.4,183.1 575.8,181.6C574.3,180.1 572,177.9 571.3,177.2 M575.2,177.6 L571.3,177.2 L571.9,181.1 M599.4,207.6C598.7,206.8 596.7,204.3 595.3,202.6C593.9,201 592.5,199.3 591.1,197.7C589.7,196.1 587.5,193.7 586.8,192.9 M590.7,193.6 L586.8,192.9 L587.2,196.8 M612.6,225.7C612,224.8 610.2,222.1 608.9,220.3C607.7,218.5 606.4,216.8 605.1,215C603.8,213.3 601.8,210.7 601.1,209.8 M604.9,210.8 L601.1,209.8 L601.1,213.7 M624.3,244.5C623.7,243.5 622.1,240.8 621,238.9C619.9,237.1 618.8,235.3 617.7,233.4C616.6,231.6 614.8,229 614.2,228.1 M617.9,229.3 L614.2,228.1 L613.9,232 M634.4,264.2C634,263.2 632.6,260.3 631.7,258.4C630.8,256.5 629.8,254.7 628.8,252.8C627.8,250.9 626.3,248.1 625.8,247.2 M629.4,248.8 L625.8,247.2 L625.2,251.1 M643,284.6C642.7,283.6 641.6,280.7 640.8,278.7C640,276.8 639.2,274.9 638.4,273C637.6,271 636.3,268.2 635.9,267.2 M639.3,269.1 L635.9,267.2 L635,271 M650,305.6C649.7,304.6 648.8,301.6 648.2,299.7C647.6,297.7 647,295.8 646.3,293.8C645.7,291.9 644.6,289 644.3,288 M647.6,290.1 L644.3,288 L643.1,291.7 M655.3,327.1C655.1,326.1 654.5,323.1 654,321.1C653.6,319.2 653.1,317.2 652.6,315.2C652.1,313.2 651.3,310.3 651.1,309.3 M654.2,311.7 L651.1,309.3 L649.6,312.9 M659,349C658.8,348 658.4,345 658.2,343C657.9,341 657.5,339 657.2,337C656.9,335 656.3,332.1 656.1,331.1 M659.1,333.7 L656.1,331.1 L654.4,334.6 M660.9,371.1C660.8,370.1 660.7,367.1 660.5,365.1C660.4,363.1 660.2,361.1 660.1,359.1C659.9,357.2 659.6,354.2 659.5,353.2 M662.2,356 L659.5,353.2 L657.4,356.5 M661,393.4 661.2,384.4 661,375.4 M663.5,378.5 L661,375.4 L658.7,378.6 M659.5,415.4 660.3,406.7 660.9,397.8 M663.1,401.1 L660.9,397.8 L658.3,400.8 M656.2,437.3 657.7,428.8 658.9,420.2 M660.9,423.6 L658.9,420.2 L656.1,423 M651.2,459 653.3,450.6 655.2,442.2 M656.9,445.8 L655.2,442.2 L652.2,444.8 M644.5,480.1 647.3,472.1 649.8,463.9 M651.3,467.5 L649.8,463.9 L646.6,466.2 M636.2,500.9 639.6,493 642.8,485 M643.9,488.7 L642.8,485 L639.4,487 M626.2,521 630.3,513.2 634.1,505.3 M635,509.1 L634.1,505.3 L630.6,507.1 M614.6,540.2 619.4,532.6 623.9,524.9 M624.5,528.8 L623.9,524.9 L620.3,526.4 M601.5,558.4C602.2,557.6 604,555.2 605.2,553.6C606.4,552 607.6,550.3 608.8,548.7C609.9,547 611.7,544.5 612.2,543.7 M612.5,547.6 L612.2,543.7 L608.5,544.9 M587,575.7C587.7,574.9 589.8,572.6 591.2,571C592.5,569.4 593.9,567.8 595.2,566.2C596.6,564.6 598.6,562.2 599.2,561.4 M599.2,565.3 L599.2,561.4 L595.4,562.3 M571.2,591.6C572,590.9 574.3,588.7 575.8,587.2C577.3,585.8 578.9,584.2 580.3,582.7C581.8,581.2 584,578.9 584.7,578.1 M584.4,582 L584.7,578.1 L580.9,578.7 M554.4,606.2C555.2,605.5 557.7,603.5 559.3,602.2C560.9,600.8 562.6,599.4 564.2,598C565.8,596.6 568.1,594.5 568.9,593.8 M568.2,597.6 L568.9,593.8 L565,594.1 M536.4,619.4C537.3,618.8 539.9,617 541.7,615.8C543.4,614.5 545.1,613.3 546.8,612C548.5,610.7 551,608.8 551.9,608.2 M550.9,612 L551.9,608.2 L548,608.2 M517.4,631.2C518.4,630.6 521.2,629 523,627.9C524.8,626.8 526.6,625.7 528.4,624.6C530.3,623.5 532.9,621.7 533.8,621.1 M532.6,624.8 L533.8,621.1 L529.9,620.8 M497.7,641.4C498.6,640.9 501.5,639.6 503.4,638.6C505.3,637.7 507.2,636.7 509.1,635.7C511,634.7 513.8,633.2 514.8,632.7 M513.2,636.3 L514.8,632.7 L510.9,632.1 M477.1,650C478.1,649.6 481.1,648.5 483.1,647.7C485.1,646.9 487.1,646.1 489,645.2C491,644.4 493.9,643.1 494.9,642.7 M493.1,646.1 L494.9,642.7 L491.1,641.8 M455.9,657.1C456.9,656.7 460,655.8 462.1,655.2C464.1,654.5 466.2,653.9 468.2,653.2C470.3,652.5 473.4,651.4 474.4,651 M472.3,654.3 L474.4,651 L470.6,649.8 M434.1,662.4C435.1,662.2 438.4,661.5 440.5,661C442.7,660.5 444.8,660 446.9,659.5C449.1,658.9 452.3,658 453.3,657.8 M451,660.9 L453.3,657.8 L449.7,656.3 M411.7,666C412.9,665.9 416.3,665.4 418.5,665.1C420.8,664.8 423,664.4 425.2,664C427.5,663.7 430.8,663 432,662.8 M429.4,665.8 L432,662.8 L428.5,661 M389.4,667.8C390.6,667.8 394,667.6 396.3,667.5C398.6,667.3 400.9,667.1 403.2,666.9C405.5,666.7 408.9,666.3 410,666.2 M407.2,669 L410,666.2 L406.7,664.2 M367.2,667.9C368.3,667.9 371.8,668 374.1,668.1C376.4,668.1 378.6,668.1 380.9,668.1C383.2,668 386.7,667.9 387.8,667.9 M384.8,670.4 L387.8,667.9 L384.6,665.6 M344.8,666.2C346,666.3 349.4,666.7 351.8,666.9C354.1,667.1 356.4,667.3 358.7,667.5C361,667.6 364.5,667.8 365.7,667.8 M362.5,670.1 L365.7,667.8 L362.7,665.3 M322.8,662.8C323.9,663 327.4,663.6 329.7,664C332,664.4 334.3,664.8 336.6,665.1C338.9,665.5 342.4,665.9 343.5,666 M340.2,668.1 L343.5,666 L340.7,663.3 M301.3,657.7C302.4,658 305.7,658.9 307.9,659.4C310.2,660 312.4,660.5 314.6,661C316.8,661.5 320.2,662.2 321.3,662.5 M317.8,664.2 L321.3,662.5 L318.7,659.5 M280.2,650.9C281.2,651.2 284.5,652.4 286.6,653.1C288.8,653.9 290.9,654.6 293.1,655.2C295.3,655.9 298.5,656.9 299.6,657.2 M296,658.6 L299.6,657.2 L297.3,654 M259.5,642.4C260.5,642.8 263.7,644.3 265.8,645.2C267.9,646.1 270,646.9 272.1,647.8C274.3,648.6 277.5,649.9 278.5,650.3 M274.8,651.4 L278.5,650.3 L276.5,646.9 M239.6,632.3C240.6,632.8 243.6,634.5 245.6,635.6C247.7,636.6 249.7,637.7 251.8,638.7C253.9,639.7 257,641.2 258,641.7 M254.2,642.6 L258,641.7 L256.2,638.2 M220.4,620.6C221.3,621.2 224.3,623.2 226.3,624.4C228.3,625.7 230.3,626.9 232.3,628.1C234.3,629.3 237.4,631.1 238.4,631.6 M234.5,632.2 L238.4,631.6 L236.9,628 M202.2,607.4C203.1,608.1 205.9,610.3 207.9,611.8C209.8,613.2 211.7,614.6 213.7,616C215.6,617.4 218.6,619.4 219.6,620.1 M215.7,620.3 L219.6,620.1 L218.4,616.4 M185.2,592.9C186.1,593.7 188.7,596.2 190.5,597.8C192.3,599.3 194.2,600.9 196,602.4C197.9,604 200.7,606.2 201.6,607 M197.7,607 L201.6,607 L200.7,603.2 M169.4,577.2C170.2,578 172.7,580.7 174.4,582.4C176,584.1 177.8,585.9 179.5,587.5C181.2,589.2 183.9,591.7 184.7,592.5 M180.8,592.2 L184.7,592.5 L184.1,588.7 M154.8,560.2C155.6,561.1 157.9,564 159.4,565.9C161,567.7 162.6,569.6 164.2,571.4C165.8,573.2 168.2,575.9 169,576.8 M165.2,576.2 L169,576.8 L168.7,572.9 M141.7,542.2C142.4,543.2 144.5,546.2 145.9,548.2C147.3,550.2 148.7,552.1 150.2,554.1C151.6,556 153.9,558.9 154.6,559.9 M150.8,558.9 L154.6,559.9 L154.6,556 M130.1,523.2C130.7,524.2 132.5,527.4 133.7,529.5C135,531.6 136.2,533.7 137.5,535.7C138.8,537.8 140.9,540.8 141.5,541.9 M137.8,540.6 L141.5,541.9 L141.8,538 M119.9,503.3C120.5,504.4 122,507.7 123.1,509.9C124.2,512.1 125.3,514.3 126.4,516.4C127.6,518.6 129.3,521.8 129.9,522.9 M126.3,521.3 L129.9,522.9 L130.5,519 M111.4,482.7C111.8,483.9 113.1,487.3 114,489.6C114.9,491.8 115.9,494.1 116.8,496.3C117.8,498.6 119.3,501.9 119.8,503 M116.3,501.2 L119.8,503 L120.7,499.2 M104.5,461.6C104.9,462.7 105.9,466.3 106.6,468.6C107.3,470.9 108.1,473.2 108.9,475.5C109.6,477.8 110.9,481.3 111.3,482.4 M108,480.3 L111.3,482.4 L112.5,478.7 M99.3,439.8C99.5,441 100.3,444.6 100.8,447C101.4,449.4 101.9,451.8 102.5,454.2C103.1,456.6 104.1,460.1 104.4,461.3 M101.3,459 L104.4,461.3 L105.9,457.7 M95.8,417.6C95.9,418.9 96.4,422.6 96.7,425.1C97.1,427.5 97.5,430 97.9,432.5C98.3,434.9 99.1,438.6 99.3,439.8 M96.3,437.3 L99.3,439.8 L101,436.3 M94,395.4C94.1,396.7 94.3,400.4 94.4,402.9C94.6,405.4 94.8,407.9 95,410.4C95.2,412.9 95.7,416.6 95.8,417.9 M93,415.1 L95.8,417.9 L97.8,414.5 M94,373.5C94,374.7 93.9,378.4 93.8,380.8C93.8,383.2 93.8,385.6 93.8,388C93.9,390.4 94,394.1 94,395.3 M91.5,392.3 L94,395.3 L96.3,392.1 M95.7,351.7C95.6,352.9 95.2,356.4 95,358.7C94.8,361 94.6,363.3 94.4,365.6C94.3,367.9 94.1,371.4 94.1,372.6 M91.8,369.4 L94.1,372.6 L96.6,369.6 M99.1,329.7C98.9,330.8 98.3,334.3 97.9,336.6C97.5,338.9 97.1,341.2 96.8,343.5C96.4,345.8 96,349.3 95.9,350.4 M93.8,347.1 L95.9,350.4 L98.6,347.6 M104.3,308C104,309.1 103.1,312.5 102.5,314.8C101.9,317 101.4,319.3 100.9,321.6C100.3,323.9 99.6,327.3 99.4,328.5 M97.6,324.9 L99.4,328.5 L102.3,325.9 M111,287.2C110.6,288.3 109.5,291.4 108.8,293.5C108,295.7 107.3,297.8 106.7,299.9C106,302.1 105.1,305.3 104.8,306.4 M103.3,302.7 L104.8,306.4 L107.9,304 M119.3,266.9C118.9,267.9 117.5,270.9 116.7,272.8C115.8,274.8 115,276.8 114.2,278.8C113.4,280.9 112.2,283.9 111.8,284.9 M110.7,281.2 L111.8,284.9 L115.2,282.8 M129.3,247C128.8,248 127.2,250.8 126.2,252.7C125.2,254.6 124.2,256.6 123.3,258.5C122.3,260.4 120.9,263.4 120.5,264.4 M119.6,260.5 L120.5,264.4 L123.9,262.6 M140.7,228.2C140.1,229.1 138.4,231.7 137.3,233.5C136.2,235.3 135.1,237.1 134,238.9C132.9,240.7 131.3,243.4 130.8,244.3 M130.3,240.4 L130.8,244.3 L134.4,242.8 M153.5,210.4C152.9,211.2 151,213.6 149.8,215.2C148.6,216.8 147.4,218.5 146.2,220.1C145,221.8 143.3,224.3 142.8,225.1 M142.5,221.2 L142.8,225.1 L146.5,223.9 M167.7,193.4C167.1,194.2 165.1,196.4 163.7,197.9C162.4,199.4 161.1,200.9 159.8,202.5C158.6,204 156.7,206.3 156,207.1 M156.1,203.2 L156,207.1 L159.9,206.2 M183.5,177.4C182.7,178.2 180.5,180.2 179.1,181.7C177.6,183.1 176.2,184.5 174.8,186C173.3,187.4 171.3,189.6 170.5,190.4 M170.9,186.5 L170.5,190.4 L174.4,189.7 M200.4,162.8C199.6,163.5 197.2,165.4 195.6,166.7C194,168 192.5,169.3 190.9,170.7C189.4,172 187.1,174.1 186.3,174.8 M187,170.9 L186.3,174.8 L190.3,174.5 M218.3,149.6C217.5,150.2 214.9,151.9 213.3,153.1C211.6,154.3 209.9,155.5 208.3,156.7C206.6,157.9 204.2,159.8 203.4,160.5 M204.3,156.7 L203.4,160.5 L207.3,160.4 M237.3,137.8C236.4,138.3 233.7,139.9 231.9,140.9C230.2,142 228.4,143.1 226.6,144.1C224.9,145.2 222.3,146.9 221.4,147.5 M222.7,143.8 L221.4,147.5 L225.4,147.8 M257,127.6C256.1,128 253.3,129.3 251.5,130.3C249.6,131.2 247.8,132.1 246,133C244.2,134 241.5,135.5 240.5,136 M242.1,132.4 L240.5,136 L244.4,136.6 M277.4,119C276.5,119.3 273.6,120.4 271.8,121.2C269.9,121.9 268,122.7 266.1,123.5C264.3,124.3 261.5,125.5 260.6,125.9 M262.4,122.5 L260.6,125.9 L264.4,126.8 M298.5,111.9C297.6,112.2 294.7,113.1 292.7,113.7C290.8,114.3 288.9,114.9 287,115.6C285,116.2 282.2,117.2 281.2,117.5 M283.3,114.2 L281.2,117.5 L285,118.8 M320.3,106.5C319.3,106.8 316.3,107.4 314.3,107.8C312.3,108.3 310.3,108.8 308.3,109.3C306.3,109.8 303.3,110.6 302.3,110.9 M304.7,107.7 L302.3,110.9 L306,112.3 M342.3,102.9C341.3,103 338.2,103.4 336.2,103.7C334.1,104 332.1,104.4 330.1,104.7C328,105.1 325,105.6 324,105.8 M326.6,102.9 L324,105.8 L327.5,107.6 M364.6,101C363.5,101.1 360.4,101.2 358.3,101.4C356.3,101.5 354.2,101.7 352.1,101.8C350.1,102 347,102.4 345.9,102.5 M348.8,99.7 L345.9,102.5 L349.3,104.5 M385.4,121.4 377.5,121.2 369.6,121.4 M372.6,118.9 L369.6,121.4 L372.7,123.7 M406,122.8 398.1,122.1 390.3,121.6 M393.5,119.3 L390.3,121.6 L393.3,124.1 M426.4,125.8 418.7,124.5 410.9,123.4 M414.3,121.4 L410.9,123.4 L413.7,126.2 M446.5,130.5 438.9,128.5 431.3,126.8 M434.8,125.1 L431.3,126.8 L433.8,129.8 M466.2,136.7 458.8,134.1 451.3,131.8 M455,130.4 L451.3,131.8 L453.6,135 M485.2,144.3 478.2,141.3 471.1,138.4 M474.8,137.3 L471.1,138.4 L473.1,141.8 M503.5,153.4 497,149.9 490.3,146.7 M494.1,145.8 L490.3,146.7 L492.1,150.2 M520.8,163.7 515,160 509.1,156.5 M513,156 L509.1,156.5 L510.6,160.1 M537.7,175.6 532.2,171.5 526.6,167.5 M530.5,167.3 L526.6,167.5 L527.7,171.3 M553.7,189 548.4,184.3 543,179.8 M546.9,179.9 L543,179.8 L543.9,183.6 M568.6,203.5 563.6,198.3 558.4,193.3 M562.3,193.7 L558.4,193.3 L559,197.2 M582.3,219.1 577.6,213.5 572.8,208 M576.7,208.7 L572.8,208 L573.1,211.9 M594.7,235.8 590.4,229.7 586,223.8 M589.7,224.8 L586,223.8 L585.9,227.7 M605.8,253.5 601.9,246.9 597.8,240.5 M601.5,241.8 L597.8,240.5 L597.5,244.4 M615.4,272 612,264.9 608.3,258 M611.9,259.5 L608.3,258 L607.7,261.8 M623.6,291.3 620.6,283.7 617.4,276.2 M620.9,278.1 L617.4,276.2 L616.5,280 M630.2,311 627.8,303.1 625.1,295.2 M628.4,297.3 L625.1,295.2 L623.9,298.9 M635.2,331.1 633.4,323 631.3,314.9 M634.4,317.3 L631.3,314.9 L629.8,318.5 M638.6,351.3 637.4,343.2 636,335.2 M638.9,337.8 L636,335.2 L634.2,338.7 M640.3,371.7 639.8,363.8 639.1,355.8 M641.8,358.6 L639.1,355.8 L637,359.1 M640.5,392.3 640.7,384.4 640.5,376.5 M643,379.5 L640.5,376.5 L638.2,379.7 M639.1,412.7 639.8,405 640.3,397.4 M642.6,400.6 L640.3,397.4 L637.8,400.3 M636.1,433 637.4,425.6 638.5,418.1 M640.5,421.5 L638.5,418.1 L635.7,420.9 M631.5,453 633.4,445.8 635,438.6 M636.7,442.1 L635,438.6 L632,441.1 M625.4,472.7 627.8,465.7 629.9,458.7 M631.4,462.4 L629.9,458.7 L626.8,461 M617.7,491.9 620.6,485.1 623.4,478.2 M624.5,482 L623.4,478.2 L620,480.3 M608.4,510.6 612,503.9 615.3,497 M616.2,500.8 L615.3,497 L611.8,498.8 M597.5,528.9 601.9,521.9 606.1,514.8 M606.6,518.7 L606.1,514.8 L602.5,516.3 M585.4,545.8 590.4,539.1 595.2,532.2 M595.5,536.1 L595.2,532.2 L591.5,533.4 M572,561.6 577.6,555.3 583,548.8 M582.9,552.7 L583,548.8 L579.2,549.7 M557.5,576.4 563.6,570.5 569.5,564.4 M569.1,568.3 L569.5,564.4 L565.6,565 M541.8,590 548.4,584.5 554.8,578.8 M554.2,582.7 L554.8,578.8 L550.9,579.1 M525.1,602.3 532.2,597.3 539.1,592.1 M538.1,595.9 L539.1,592.1 L535.2,592.1 M507.5,613.2 515,608.8 522.3,604.1 M521.1,607.8 L522.3,604.1 L518.4,603.8 M489.1,622.7 497,618.9 504.7,614.8 M503.1,618.4 L504.7,614.8 L500.8,614.2 M470.1,630.7 478.2,627.5 486.2,624 M484.4,627.5 L486.2,624 L482.4,623.1 M450.4,637.3 458.8,634.7 467.1,631.8 M465,635.1 L467.1,631.8 L463.4,630.6 M430.3,642.2 438.9,640.3 447.5,638.1 M445.2,641.2 L447.5,638.1 L443.9,636.6 M409.7,645.6C410.7,645.4 413.7,645.1 415.7,644.8C417.7,644.5 419.7,644.2 421.6,643.8C423.6,643.5 426.6,642.9 427.5,642.8 M425,645.7 L427.5,642.8 L424,641 M389.1,647.3C390.1,647.2 393.1,647.1 395.1,647C397.1,646.8 399.2,646.7 401.2,646.5C403.2,646.3 406.2,646 407.2,645.9 M404.4,648.6 L407.2,645.9 L403.8,643.8 M368.4,647.4C369.4,647.4 372.4,647.5 374.5,647.5C376.5,647.6 378.5,647.6 380.5,647.5C382.6,647.5 385.6,647.4 386.6,647.4 M383.6,649.9 L386.6,647.4 L383.4,645.1 M347.8,645.9C348.8,646 351.8,646.3 353.8,646.5C355.8,646.7 357.9,646.8 359.9,647C361.9,647.1 364.9,647.2 365.9,647.3 M362.7,649.6 L365.9,647.3 L362.9,644.8 M327.3,642.7C328.3,642.9 331.3,643.5 333.3,643.8C335.3,644.2 337.3,644.5 339.3,644.8C341.4,645.1 344.4,645.5 345.4,645.6 M342,647.6 L345.4,645.6 L342.6,642.8 M307.2,638C308.2,638.3 311.1,639.1 313.1,639.6C315.1,640.1 317.1,640.5 319,641C321,641.4 324,642 325,642.3 M321.5,644 L325,642.3 L322.4,639.3 M287.5,631.7C288.5,632 291.4,633.1 293.3,633.7C295.2,634.4 297.1,635 299.1,635.6C301,636.2 304,637.1 304.9,637.4 M301.3,638.8 L304.9,637.4 L302.6,634.2 M268.3,623.8C269.3,624.3 272.1,625.5 274,626.3C275.8,627.1 277.7,627.9 279.6,628.7C281.5,629.4 284.4,630.5 285.4,630.9 M281.6,632.1 L285.4,630.9 L283.3,627.6 M249.9,614.6C250.8,615 253.5,616.5 255.3,617.5C257.1,618.4 258.9,619.3 260.8,620.2C262.6,621.1 265.4,622.5 266.3,622.9 M262.5,623.8 L266.3,622.9 L264.5,619.4 M232.2,603.8C233.1,604.4 235.7,606.1 237.4,607.2C239.1,608.2 240.9,609.3 242.6,610.4C244.4,611.4 247,612.9 247.9,613.4 M244.1,614 L247.9,613.4 L246.4,609.8 M215.3,591.6C216.1,592.3 218.6,594.2 220.3,595.4C222,596.7 223.7,597.9 225.4,599.1C227.1,600.3 229.7,602.1 230.5,602.7 M226.6,602.9 L230.5,602.7 L229.3,599 M199.5,578.2C200.3,578.9 202.6,581.1 204.2,582.4C205.8,583.8 207.4,585.2 209,586.5C210.6,587.9 213.1,589.8 213.9,590.5 M210,590.5 L213.9,590.5 L212.9,586.7 M184.9,563.7C185.6,564.5 187.8,566.7 189.2,568.2C190.7,569.7 192.2,571.2 193.7,572.7C195.2,574.1 197.4,576.3 198.2,577 M194.3,576.7 L198.2,577 L197.6,573.1 M171.4,548.1C172.1,548.9 174,551.3 175.4,552.9C176.7,554.5 178.1,556.1 179.4,557.7C180.8,559.2 182.9,561.6 183.6,562.3 M179.8,561.7 L183.6,562.3 L183.3,558.4 M159.2,531.4C159.8,532.3 161.6,534.8 162.8,536.5C164,538.2 165.2,539.9 166.5,541.6C167.7,543.3 169.6,545.7 170.2,546.6 M166.4,545.6 L170.2,546.6 L170.2,542.6 M148.4,513.8C148.9,514.7 150.4,517.4 151.5,519.2C152.6,521 153.7,522.8 154.8,524.5C155.9,526.3 157.6,528.9 158.2,529.8 M154.4,528.5 L158.2,529.8 L158.4,525.9 M138.9,495.4C139.4,496.4 140.7,499.2 141.6,501.1C142.5,502.9 143.5,504.8 144.5,506.7C145.4,508.5 146.9,511.2 147.4,512.2 M143.8,510.6 L147.4,512.2 L148,508.3 M130.9,476.3C131.3,477.3 132.4,480.2 133.2,482.2C134,484.1 134.8,486.1 135.6,488C136.4,489.9 137.7,492.8 138.1,493.8 M134.7,491.9 L138.1,493.8 L139,489.9 M124.5,456.7C124.8,457.7 125.7,460.7 126.3,462.7C126.9,464.7 127.5,466.7 128.2,468.7C128.9,470.7 129.9,473.6 130.3,474.6 M127,472.5 L130.3,474.6 L131.5,470.9 M119.6,436.7C119.8,437.7 120.4,440.7 120.9,442.8C121.4,444.8 121.9,446.8 122.4,448.9C122.9,450.9 123.7,453.9 124,454.9 M120.8,452.6 L124,454.9 L125.5,451.3 M116.3,416.2C116.4,417.3 116.8,420.4 117.1,422.5C117.4,424.5 117.7,426.6 118.1,428.7C118.4,430.7 119,433.8 119.2,434.9 M116.3,432.3 L119.2,434.9 L121,431.4 M114.6,395.9C114.7,396.9 114.8,400 114.9,402C115.1,404 115.2,406.1 115.4,408.1C115.6,410.1 115.9,413.2 116,414.2 M113.3,411.4 L116,414.2 L118.1,410.8 M114.5,375.9 114.3,384.4 114.5,392.9 M112,389.9 L114.5,392.9 L116.8,389.7 M115.9,355.6 115.2,363.8 114.6,371.9 M112.4,368.7 L114.6,371.9 L117.2,369 M119,335 117.6,343.2 116.4,351.5 M114.4,348.1 L116.4,351.5 L119.2,348.7 M123.7,314.8 121.6,323 119.8,331.2 M118,327.7 L119.8,331.2 L122.7,328.7 M129.9,295.2 127.2,303.1 124.8,311.1 M123.3,307.4 L124.8,311.1 L127.9,308.7 M137.6,276.2 134.4,283.7 131.4,291.3 M130.2,287.6 L131.4,291.3 L134.7,289.3 M146.8,257.8 143,264.9 139.5,272.1 M138.6,268.3 L139.5,272.1 L143,270.4 M157.4,240.2 153.1,246.9 149.1,253.7 M148.5,249.8 L149.1,253.7 L152.7,252.2 M169.3,223.5 164.6,229.7 160.1,236.1 M159.9,232.2 L160.1,236.1 L163.8,234.9 M182.6,207.6 177.4,213.5 172.4,219.5 M172.5,215.6 L172.4,219.5 L176.2,218.6 M197.2,192.7 191.4,198.3 185.8,204.1 M186.2,200.2 L185.8,204.1 L189.7,203.5 M212.9,179.1 206.6,184.3 200.5,189.7 M201.1,185.8 L200.5,189.7 L204.4,189.4 M229.5,166.8 222.8,171.5 216.3,176.4 M217.3,172.6 L216.3,176.4 L220.2,176.4 M247,155.9 240,160 233.2,164.4 M234.4,160.6 L233.2,164.4 L237.1,164.7 M265.2,146.4 258,149.9 251,153.7 M252.5,150.1 L251,153.7 L254.9,154.3 M284.1,138.4 276.8,141.3 269.6,144.4 M271.4,140.9 L269.6,144.4 L273.4,145.3 M303.7,131.8 296.2,134.1 288.8,136.7 M290.9,133.3 L288.8,136.7 L292.5,137.9 M323.8,126.8 316.1,128.5 308.4,130.5 M310.8,127.3 L308.4,130.5 L312,132 M344.2,123.4 336.3,124.5 328.5,125.8 M331.1,122.9 L328.5,125.8 L332,127.6 M364.8,121.6 356.9,122.1 349,122.8 M351.8,120.1 L349,122.8 L352.3,124.8 M384.3,141.1 377.5,141 370.7,141.1 M373.7,138.6 L370.7,141.1 L373.8,143.4 M403.2,142.4 396.6,141.8 389.9,141.4 M393.2,139.1 L389.9,141.4 L392.9,143.9 M421.9,145.1 415.6,144 409.2,143.1 M412.6,141.1 L409.2,143.1 L412,145.9 M440.4,149.3 434.3,147.8 428.2,146.4 M431.7,144.7 L428.2,146.4 L430.7,149.4 M458.6,154.9 452.7,152.9 446.8,151.1 M450.4,149.7 L446.8,151.1 L449.1,154.3 M476.2,161.9 470.6,159.6 465,157.3 M468.8,156.2 L465,157.3 L467.1,160.7 M493.1,170.2 488,167.6 482.9,165 M486.7,164.2 L482.9,165 L484.6,168.5 M509.4,179.9 504.7,176.9 499.9,174 M503.7,173.5 L499.9,174 L501.3,177.7 M525,190.8 520.5,187.5 516,184.3 M519.9,184.1 L516,184.3 L517.2,188 M539.8,203 535.6,199.3 531.2,195.8 M535.2,195.9 L531.2,195.8 L532.1,199.6 M553.5,216.3 549.6,212.3 545.6,208.4 M549.5,208.8 L545.6,208.4 L546.2,212.3 M566.1,230.6 562.6,226.3 558.9,222.1 M562.7,222.8 L558.9,222.1 L559.1,226 M577.6,245.9 574.4,241.4 571,236.9 M574.8,237.9 L571,236.9 L571,240.8 M587.9,262.1 585,257.2 582,252.5 M585.7,253.8 L582,252.5 L581.7,256.4 M596.8,279 594.3,273.9 591.7,268.9 M595.3,270.5 L591.7,268.9 L591.1,272.8 M604.4,296.5 602.3,291.3 600.1,286.1 M603.6,287.9 L600.1,286.1 L599.2,289.9 M610.7,314.6 609,309.2 607.1,303.8 M610.4,305.9 L607.1,303.8 L605.9,307.5 M615.4,333.2 614.1,327.6 612.7,322 M615.8,324.4 L612.7,322 L611.2,325.6 M618.7,352.3 617.9,346.3 616.8,340.4 M619.8,343 L616.8,340.4 L615,343.8 M620.5,371.5 620.1,365.3 619.6,359.2 M622.3,362 L619.6,359.2 L617.5,362.5 M620.8,390.6 620.9,384.4 620.8,378.2 M623.3,381.2 L620.8,378.2 L618.5,381.4 M619.5,409.7 620.1,403.5 620.5,397.3 M622.8,400.5 L620.5,397.3 L618,400.2 M616.8,428.6 617.9,422.5 618.8,416.3 M620.7,419.7 L618.8,416.3 L616,419.1 M612.6,447.1 614.1,441.2 615.5,435.2 M617.2,438.8 L615.5,435.2 L612.5,437.8 M607,465.3 609,459.6 610.7,453.8 M612.2,457.5 L610.7,453.8 L607.6,456.1 M600,483.1 602.3,477.5 604.6,471.9 M605.7,475.7 L604.6,471.9 L601.2,474 M591.7,500 594.3,494.9 596.9,489.7 M597.7,493.6 L596.9,489.7 L593.4,491.5 M582,516.4 585,511.6 587.9,506.7 M588.4,510.6 L587.9,506.7 L584.3,508.2 M571,532 574.4,527.4 577.6,522.9 M577.8,526.8 L577.6,522.9 L573.9,524 M558.8,546.7 562.6,542.5 566.2,538.1 M566.1,542 L566.2,538.1 L562.4,539 M545.1,560.9 549.6,556.5 554,552 M553.6,555.9 L554,552 L550.1,552.6 M530.4,573.7 535.6,569.5 540.6,565 M539.9,568.9 L540.6,565 L536.7,565.3 M515.2,585.1 520.5,581.3 525.8,577.3 M524.8,581.1 L525.8,577.3 L521.9,577.3 M499.2,595.1 504.7,591.9 510,588.5 M508.7,592.2 L510,588.5 L506.1,588.2 M482.2,604.1 488,601.2 493.7,598.2 M492.1,601.8 L493.7,598.2 L489.8,597.6 M464.5,611.7 470.6,609.2 476.7,606.6 M474.9,610.1 L476.7,606.6 L472.9,605.7 M446,617.9 452.7,615.9 459.4,613.6 M457.3,616.9 L459.4,613.6 L455.6,612.4 M427.2,622.6 434.3,621 441.4,619.2 M439.1,622.4 L441.4,619.2 L437.8,617.7 M408.4,625.8 415.6,624.8 422.7,623.5 M420.1,626.5 L422.7,623.5 L419.2,621.7 M389.3,627.5 396.6,627 403.9,626.3 M401,629.1 L403.9,626.3 L400.5,624.3 M369.9,627.6 377.5,627.8 385.1,627.6 M382.1,630.1 L385.1,627.6 L382,625.3 M350.9,626.3 358.4,627 365.9,627.5 M362.7,629.7 L365.9,627.5 L362.9,624.9 M331.9,623.5 339.4,624.8 347,625.8 M343.6,627.8 L347,625.8 L344.2,623.1 M313.1,619.1 320.7,621 328.3,622.7 M324.8,624.5 L328.3,622.7 L325.8,619.8 M294.7,613.3 302.3,615.9 310,618.2 M306.3,619.6 L310,618.2 L307.6,615 M277,606 284.4,609.2 291.9,612.2 M288.1,613.4 L291.9,612.2 L289.8,608.9 M260.1,597.6 267,601.2 274.1,604.7 M270.2,605.5 L274.1,604.7 L272.3,601.2 M243.9,587.8 250.3,591.9 257,595.8 M253.1,596.4 L257,595.8 L255.5,592.2 M228.1,576.5 234.5,581.3 241,585.8 M237,586.1 L241,585.8 L239.7,582.1 M213.5,564.2 219.4,569.5 225.5,574.5 M221.6,574.4 L225.5,574.5 L224.6,570.7 M200,550.9 205.4,556.5 211,561.9 M207.1,561.5 L211,561.9 L210.4,558 M187.5,536.5 192.4,542.5 197.6,548.2 M193.7,547.6 L197.6,548.2 L197.2,544.3 M176.2,521.2 180.6,527.4 185.2,533.6 M181.4,532.6 L185.2,533.6 L185.2,529.7 M166.1,505 170,511.6 174.1,518 M170.4,516.8 L174.1,518 L174.4,514.1 M157.2,487.9 160.7,494.9 164.3,501.7 M160.7,500.2 L164.3,501.7 L164.9,497.9 M149.8,470.3 152.7,477.5 155.8,484.7 M152.3,482.9 L155.8,484.7 L156.7,480.9 M143.8,452.2 146,459.6 148.6,467 M145.3,464.9 L148.6,467 L149.8,463.2 M139.2,433.7 140.9,441.2 142.8,448.7 M139.6,446.3 L142.8,448.7 L144.3,445 M136.1,415 137.1,422.5 138.4,429.9 M135.5,427.3 L138.4,429.9 L140.2,426.4 M134.4,396.1 134.9,403.5 135.6,410.9 M132.9,408.1 L135.6,410.9 L137.6,407.5 M134.2,377.2 134.1,384.4 134.2,391.6 M131.8,388.6 L134.2,391.6 L136.5,388.5 M135.5,358.2 134.9,365.3 134.4,372.4 M132.2,369.2 L134.4,372.4 L137,369.4 M138.4,339.3 137.1,346.3 136.1,353.4 M134.1,350 L136.1,353.4 L138.9,350.6 M142.6,320.7 140.9,327.6 139.3,334.6 M137.6,331 L139.3,334.6 L142.3,332 M148.3,302.5 146,309.2 144,315.9 M142.5,312.3 L144,315.9 L147.1,313.6 M155.4,284.9 152.7,291.3 150.1,297.7 M149,294 L150.1,297.7 L153.4,295.7 M163.9,267.8 160.7,273.9 157.6,280.1 M156.8,276.3 L157.6,280.1 L161.1,278.3 M173.7,251.4 170,257.2 166.5,263.2 M166,259.3 L166.5,263.2 L170.1,261.7 M184.7,235.9 180.6,241.4 176.7,246.9 M176.5,243 L176.7,246.9 L180.4,245.7 M196.9,221.2 192.4,226.3 188.1,231.6 M188.2,227.7 L188.1,231.6 L191.9,230.7 M210.4,207.5 205.4,212.3 200.6,217.3 M201,213.4 L200.6,217.3 L204.4,216.7 M224.9,194.8 219.4,199.3 214.1,204 M214.8,200.2 L214.1,204 L218,203.7 M240.3,183.4 234.5,187.5 228.8,191.8 M229.8,188 L228.8,191.8 L232.7,191.8 M256.5,173.3 250.3,176.9 244.3,180.7 M245.6,177 L244.3,180.7 L248.2,181 M273.2,164.5 267,167.6 260.9,170.8 M262.5,167.2 L260.9,170.8 L264.8,171.4 M290.6,157.1 284.4,159.6 278.2,162.2 M280,158.8 L278.2,162.2 L282,163.2 M308.7,151 302.3,152.9 295.9,155.1 M298.1,151.8 L295.9,155.1 L299.7,156.3 M327.3,146.3 320.7,147.8 314.1,149.4 M316.5,146.3 L314.1,149.4 L317.8,150.9 M346.2,143.1 339.4,144 332.7,145.2 M335.3,142.3 L332.7,145.2 L336.2,147 M365.2,141.3 358.4,141.8 351.6,142.4 M354.4,139.7 L351.6,142.4 L354.9,144.5 M383.3,160.2 377.5,160.2 371.7,160.2 M374.8,157.8 L371.7,160.2 L374.9,162.6 M400.7,161.4 395.1,160.9 389.4,160.5 M392.7,158.2 L389.4,160.5 L392.4,163 M418.1,163.9 412.6,162.9 407.1,162.1 M410.5,160.1 L407.1,162.1 L409.8,164.9 M435.2,167.7 429.8,166.4 424.4,165.1 M428,163.4 L424.4,165.1 L427,168.1 M452,172.9 446.8,171.1 441.5,169.5 M445.2,168.1 L441.5,169.5 L443.8,172.7 M601.7,389.9 601.7,384.4 601.7,378.9 M604.1,381.9 L601.7,378.9 L599.3,382 M600.5,407.5 601,402 601.4,396.5 M603.6,399.7 L601.4,396.5 L598.9,399.4 M598,424.9 599,419.5 599.8,414 M601.7,417.4 L599.8,414 L597,416.7 M594.2,442.1 595.5,436.7 596.8,431.4 M598.5,434.9 L596.8,431.4 L593.8,433.9 M518.9,558.5 523.1,554.9 527.3,551.3 M526.6,555.1 L527.3,551.3 L523.4,551.5 M504.8,569 509.3,565.8 513.7,562.5 M512.7,566.3 L513.7,562.5 L509.8,562.5 M441.5,599.3 446.8,597.7 452.1,595.9 M449.9,599.2 L452.1,595.9 L448.3,594.6 M424.3,603.7 429.8,602.4 435.3,601.1 M432.9,604.2 L435.3,601.1 L431.7,599.5 M407,606.7 412.6,605.9 418.1,604.9 M415.5,607.9 L418.1,604.9 L414.6,603.1 M389.5,608.3 395.1,607.9 400.7,607.4 M397.8,610.1 L400.7,607.4 L397.3,605.4 M371.8,608.6 377.5,608.6 383.2,608.6 M380.2,611 L383.2,608.6 L380.1,606.2 M354.2,607.4 359.9,607.9 365.6,608.3 M362.4,610.6 L365.6,608.3 L362.7,605.8 M336.8,604.9 342.4,605.9 348.1,606.7 M344.7,608.7 L348.1,606.7 L345.4,603.9 M319.5,601 325.2,602.4 330.9,603.7 M327.3,605.4 L330.9,603.7 L328.3,600.7 M302.6,595.7 308.2,597.7 313.9,599.4 M310.3,600.9 L313.9,599.4 L311.6,596.3 M286.2,589.2 291.7,591.6 297.2,593.8 M293.5,594.9 L297.2,593.8 L295.2,590.4 M270.5,581.5 275.7,584.2 280.9,586.8 M277.1,587.6 L280.9,586.8 L279.2,583.3 M255.5,572.5 260.3,575.6 265.3,578.5 M261.4,579.1 L265.3,578.5 L263.8,574.9 M241.1,562.4 245.7,565.8 250.4,569.1 M246.5,569.3 L250.4,569.1 L249.2,565.4 M227.6,551.1 231.9,554.9 236.3,558.6 M232.4,558.5 L236.3,558.6 L235.4,554.8 M214.9,538.8 218.9,543 223.1,547 M219.2,546.6 L223.1,547 L222.5,543.1 M203.2,525.5 207,530 210.9,534.4 M207,533.7 L210.9,534.4 L210.6,530.5 M192.7,511.4 196.1,516.2 199.6,520.9 M195.8,519.9 L199.6,520.9 L199.6,517 M183.3,496.4 186.3,501.6 189.5,506.6 M185.8,505.3 L189.5,506.6 L189.8,502.7 M175,480.8 177.7,486.2 180.5,491.5 M176.9,490 L180.5,491.5 L181.1,487.7 M168.1,464.6 170.3,470.2 172.7,475.8 M169.3,473.9 L172.7,475.8 L173.7,472 M162.4,447.9 164.2,453.7 166.2,459.5 M162.9,457.3 L166.2,459.5 L167.4,455.7 M158.1,430.8 159.5,436.7 161,442.7 M157.8,440.3 L161,442.7 L162.5,439 M155.1,413.4 156,419.5 157.1,425.5 M154.1,422.9 L157.1,425.5 L158.9,422 M153.6,395.9 154,402 154.5,408.1 M151.8,405.3 L154.5,408.1 L156.6,404.8 M153.3,378.3 153.3,384.4 153.3,390.5 M150.9,387.5 L153.3,390.5 L155.7,387.3 M154.5,360.8 154,366.8 153.6,372.9 M151.3,369.6 L153.6,372.9 L156.1,369.9 M157,343.4 156,349.3 155.2,355.3 M153.2,351.9 L155.2,355.3 L157.9,352.5 M160.9,326.3 159.5,332.1 158.1,337.9 M156.4,334.3 L158.1,337.9 L161.1,335.3 M166.1,309.6 164.2,315.1 162.5,320.7 M161.1,317 L162.5,320.7 L165.7,318.4 M172.6,293.3 170.3,298.6 168.2,303.9 M167.1,300.2 L168.2,303.9 L171.5,301.9 M180.4,277.5 177.7,282.6 175.1,287.8 M174.3,284 L175.1,287.8 L178.6,286 M189.4,262.3 186.3,267.2 183.3,272.3 M182.8,268.4 L183.3,272.3 L186.9,270.8 M199.6,247.9 196.1,252.6 192.7,257.3 M192.5,253.4 L192.7,257.3 L196.5,256.1 M210.8,234.4 207,238.8 203.3,243.2 M203.4,239.3 L203.3,243.2 L207.1,242.3 M223.1,221.7 218.9,225.8 214.8,230 M215.2,226.1 L214.8,230 L218.7,229.4 M236.5,210 231.9,213.9 227.4,217.8 M228,214 L227.4,217.8 L231.3,217.6 M250.7,199.5 245.7,203 240.8,206.6 M241.8,202.9 L240.8,206.6 L244.7,206.7 M265.6,190.1 260.3,193.2 255.1,196.5 M256.4,192.8 L255.1,196.5 L259,196.8 M281,182 275.7,184.6 270.4,187.4 M272,183.8 L270.4,187.4 L274.3,188 M297,175.1 291.7,177.2 286.4,179.5 M288.3,176 L286.4,179.5 L290.2,180.4 M313.7,169.4 308.2,171.1 302.8,173 M304.9,169.7 L302.8,173 L306.5,174.2 M330.7,165.1 325.2,166.4 319.6,167.8 M322,164.6 L319.6,167.8 L323.2,169.3 M348.1,162.1 342.4,162.9 336.8,163.9 M339.4,161 L336.8,163.9 L340.2,165.7 M365.7,160.5 359.9,160.9 354.2,161.4 M357,158.7 L354.2,161.4 L357.5,163.4 M173.5,411.2 174.3,416.6 175.3,422 M172.3,419.4 L175.3,422 L177,418.5 M172.1,395.1 172.4,400.5 172.9,406 M170.2,403.2 L172.9,406 L175,402.7 M171.9,378.9 171.8,384.4 171.9,389.9 M169.4,386.9 L171.9,389.9 L174.2,386.7 M172.9,362.8 172.4,368.3 172.1,373.7 M169.8,370.5 L172.1,373.7 L174.6,370.8 M175.3,346.8 174.3,352.2 173.5,357.6 M171.6,354.3 L173.5,357.6 L176.3,354.9 M183.6,315.7 181.9,320.8 180.3,326 M178.8,322.4 L180.3,326 L183.4,323.7 M189.6,300.7 187.5,305.7 185.5,310.7 M184.3,306.9 L185.5,310.7 L188.8,308.7 M196.7,286.2 194.2,291 191.8,295.9 M191,292 L191.8,295.9 L195.3,294.1 M248.1,224.5 243.9,228 239.8,231.6 M240.5,227.7 L239.8,231.6 L243.7,231.3 M261.1,214.8 256.6,218 252.2,221.3 M253.2,217.5 L252.2,221.3 L256.1,221.3 M274.8,206.2 270,209 265.3,212 M266.6,208.3 L265.3,212 L269.2,212.3 M201.5,319.3 199.8,324.1 198.2,328.9 M196.8,325.2 L198.2,328.9 L201.4,326.6 M211.5,296.9 209.2,301.4 207,306 M206.1,302.1 L207,306 L210.5,304.1 M215.6,331.9 214.2,336.5 213,341 M211.4,337.4 L213,341 L216.1,338.6 M224.7,309.5 222.7,313.7 220.8,318 M219.8,314.2 L220.8,318 L224.2,316.1 M236,326.1 234.4,330.1 232.9,334.3 M231.7,330.5 L232.9,334.3 L236.2,332.1 M454.8,339.4 447.8,334.6 M451.7,334.4 L447.8,334.6 L449,338.3 M467.9,387.7 462.5,381.1 M466.3,382 L462.5,381.1 L462.6,385 M452.9,435.7 449.6,427.9 M453,429.8 L449.6,427.9 L448.6,431.7 M381.7,312.9 373.3,312 M376.6,309.9 L373.3,312 L376.1,314.7 M427.6,331 419.9,327.5 M423.7,326.6 L419.9,327.5 L421.7,331 M451.5,374.7 445.2,369.1 M449.1,369.4 L445.2,369.1 L445.9,372.9 M442.1,424 437.6,416.8 M441.2,418.1 L437.6,416.8 L437.2,420.7 M403.8,455.9 400.4,448.1 M403.9,450 L400.4,448.1 L399.5,451.9 M416.6,341.9 408.7,338.7 M412.5,337.7 L408.7,338.7 L410.7,342.1 M437.1,387.2 430.6,381.6 M434.6,381.8 L430.6,381.6 L431.4,385.5 M415.3,431.8 410,425.1 M413.8,426.1 L410,425.1 L410,429.1 M330.4,406.8 323,410.9 M324.6,407.3 L323,410.9 L326.9,411.5 M330.8,358.7 322.6,361.2 M324.9,358 L322.6,361.2 L326.3,362.6 M369.2,329.6 360.7,329.3 M363.9,327 L360.7,329.3 L363.7,331.8 M381.7,344.1 373.3,342.9 M376.7,341 L373.3,342.9 L376,345.7 M420.1,373.9 412.7,369.6 M416.6,369.1 L412.7,369.6 L414.2,373.3 M404.9,420.1 398.2,414.9 M402.1,414.9 L398.2,414.9 L399.2,418.7 M357.7,417 349.2,418 M352,415.3 L349.2,418 L352.6,420 M342.8,370.9 334.4,372.7 M337,369.7 L334.4,372.7 L338,374.4 M406.2,380.5 398.5,376.9 M402.4,376.1 L398.5,376.9 L400.3,380.4 M356.9,378.4 348.4,379.1 M351.3,376.4 L348.4,379.1 L351.7,381.2"/>
</g>
<g fill="none" stroke="#000" stroke-width="1.55" stroke-linecap="butt" stroke-linejoin="round">
<path d="M463.1,90.9 467,91.7 470.9,92.5 474.9,93.4 478.8,94.4 482.7,95.4 486.6,96.4 490.5,97.5 494.4,98.7 498.3,99.9 502.1,101.2 505.9,102.6 509.7,104.1 513.4,105.7 517.1,107.3 520.9,109 524.5,110.8 528.1,112.7 531.6,114.8 535.1,116.9 538.5,119.1 541.9,121.4 545.2,123.7 548.5,126.1 551.7,128.5 555,131 558.1,133.5 561.3,136.1 564.3,138.7 567.4,141.4 570.3,144.1 573.3,146.9 576.1,149.8 579,152.6 581.7,155.6 584.5,158.5 587.2,161.5 589.8,164.6 592.4,167.7 594.8,170.8 597.3,174 599.7,177.2 602.1,180.4 604.4,183.7 606.7,186.9 609,190.1 611.4,193.3 613.7,196.5 616,199.7 618.4,202.9 620.8,206 623.1,209.2 625.4,212.4 627.7,215.7 629.9,218.9 632.1,222.2 634.3,225.5 636.5,228.8 638.6,232.1 640.7,235.5 642.7,238.9 644.7,242.3 646.7,245.7 648.6,249.2 650.5,252.7 652.3,256.2 654.1,259.8 654.7,261"/>
<path d="M671.1,303 672.2,306.8 673.3,310.7 674.3,314.5 675.2,318.4 676.1,322.3 676.9,326.2 677.6,330.1 678.3,334.1 678.9,338 679.4,342 679.8,345.9 680.1,349.9 680.4,353.9 680.6,357.9 680.8,361.9 680.9,365.8 681,369.8 681,373.8 681,377.8 680.9,381.8 680.9,385.7 680.8,389.7 680.6,393.7 680.4,397.6 680.2,401.6 679.9,405.5 679.6,409.5 679.2,413.4 678.8,417.4 678.3,421.3 677.8,425.3 677.2,429.2 676.6,433.1 675.9,437 675.1,440.9 674.4,444.8 673.5,448.7 672.6,452.5 671.7,456.4 670.7,460.2 669.7,464.1 668.6,467.9 667.5,471.7 666.3,475.5 665.1,479.2 663.8,483 662.5,486.7 661.1,490.4 659.7,494.1 658.3,497.8 656.9,501.5 655.4,505.2 653.9,508.9 652.3,512.5 650.6,516.1 648.7,519.6 646.8,523.1 644.9,526.6 642.9,530 640.8,533.4 638.6,536.7 636.4,540 634.2,543.2 631.9,546.5 629.5,549.6 627.1,552.8 625.5,554.9"/>
<path d="M597.3,589.4 594.8,592.4 592.2,595.4 589.6,598.3 586.9,601.2 584.2,604.2 581.5,607.1 578.8,609.9 576,612.7 573.2,615.5 570.3,618.3 567.4,621 564.5,623.7 561.5,626.3 558.4,628.8 555.2,631.3 552,633.6 548.7,635.9 545.5,638.2 542.2,640.4 538.9,642.6 535.6,644.9 532.3,647.2 529,649.4 525.7,651.7 522.3,653.9 519,656.1 515.6,658.3 512.2,660.5 508.7,662.6 505.2,664.6 501.6,666.5 498,668.4 494.4,670.1 490.7,671.8 487,673.4 485.7,673.9"/>
<path d="M444.5,686.5 440.5,687.5 436.6,688.5 432.7,689.5 428.7,690.5 424.8,691.5 420.8,692.5 416.8,693.3 412.8,694.2 408.8,694.9 404.7,695.6 400.7,696.2 396.6,696.7 392.5,697.1 388.4,697.5 384.3,697.8 380.2,698.2 376.1,698.5 372,698.8 367.9,699 363.8,699.2 359.6,699.4 355.5,699.5 351.3,699.6 347.2,699.6 343,699.5 338.8,699.3 334.7,699 330.5,698.6 326.4,698.1 322.3,697.6 318.1,697.1 314,696.5 309.9,695.9 305.8,695.2 301.6,694.5 297.5,693.7 293.4,692.9 289.3,692 285.2,691.2 281.1,690.2 277,689.2 272.9,688.2 268.8,687.1 264.8,686 260.7,684.7 256.7,683.4 252.7,682 248.7,680.5 244.8,679 240.9,677.3 237,675.6 233.2,673.9 229.4,672 225.6,670.2 221.8,668.2 218,666.2 215.6,664.9"/>
<path d="M177.5,640.4 174.1,637.8 170.8,635.2 167.4,632.5 164.1,629.8 160.9,627.1 157.7,624.3 154.5,621.4 151.4,618.5 148.3,615.6 145.3,612.6 142.4,609.5 139.4,606.4 136.6,603.3 133.7,600.1 130.9,596.9 128.2,593.6 125.5,590.3 122.9,587 120.3,583.6 117.7,580.2 115.2,576.7 112.7,573.3 110.3,569.8 107.9,566.2 105.6,562.7 103.3,559.1 101.1,555.4 98.9,551.8 96.7,548.1 94.6,544.4 92.6,540.7 90.5,537 88.5,533.2 86.6,529.4 84.7,525.6 82.9,521.8"/>
<path d="M67.3,479.2 66.3,475.1 65.3,471 64.3,466.9 63.4,462.7 62.6,458.6 61.8,454.4 61,450.2 60.3,446.1 59.6,441.9 59,437.7 58.4,433.5 57.8,429.3 57.3,425.1 56.8,420.9 56.4,416.7 56,412.5 55.7,408.3 55.4,404.1 55.2,399.9 55,395.7 54.8,391.4 54.7,387.2 54.7,383 54.7,378.8 54.7,374.5 54.8,370.3 55,366.1 55.1,361.9 55.4,357.6 55.6,353.4 56,349.2 56.4,345 56.8,340.8 57.3,336.5 57.8,332.3 58.4,328.1 59.1,323.9 59.8,319.8 60.5,315.6 61.3,311.4 62.1,307.2 63,303.1 63.9,298.9 64.9,294.8 66,290.7 67.1,286.5 68.3,282.4 69.6,278.4 70.9,274.3 72.3,270.3 73.7,266.3 75.2,262.3 76.8,258.3 78.4,254.4 80.1,250.4 81.9,246.6 83.7,242.7 85.6,238.9 87.5,235 89.5,231.2 91.5,227.5 93.5,223.7 95.6,220 97.8,216.3 100,212.7 102.3,209.1"/>
<path d="M130.3,173.2 133.2,170.2 136.3,167.2 139.3,164.2 142.5,161.4 145.7,158.6 148.9,155.8 152.2,153.1 155.5,150.4 158.8,147.8 162.2,145.3 165.6,142.8 169,140.3 172.5,137.9 175.9,135.4 179.3,133 182.8,130.7 186.4,128.5 189.9,126.2 193.5,124.1 197.1,122 200.8,119.9 204.5,118 208.2,116.1 211.9,114.2 215.7,112.5 219.5,110.7 223.4,109.2 227.2,107.6 231.1,106.2 235.1,104.8 239,103.5 242.9,102.3 246.9,101.1 250.9,100 254.7,98.7 258.6,97.4 262.5,96.2 266.4,95 270.4,94 274.3,92.9 278.2,92 282.2,91.1 286.1,90.2 290.1,89.4 294.1,88.6 298,87.8 302,87.1 305.9,86.4 309.9,85.7 313.9,85 317.8,84.3 321.8,83.7 325.7,83 329.7,82.4 333.6,81.7 337.6,81.1 341.5,80.5 345.5,79.9 349.5,79.4 353.5,79 357.5,78.6 361.5,78.2 365.5,78 369.5,77.8 373.5,77.7 377.5,77.7 381.5,77.8 385.5,78 389.5,78.3 393.5,78.7 397.5,79.2 401.5,79.7 405.4,80.3 409.4,81 413.3,81.6 417.3,82.3 418.6,82.6"/>
<path d="M229.4,585.9 233.3,588.3 236.7,590.5 239.8,592.6 242.8,594.4 245.7,596.1 248.9,597.8 252.3,599.3 256,600.7 259.8,601.9 263.6,603.1 267.5,604.2 271.2,605.4 275,606.5 278.8,607.6 282.5,608.7 286.2,609.7 290,610.7 293.8,611.7 297.6,612.8 301.5,613.8 305.2,614.7 308.8,615.5 312.2,616.1 315.4,616.5 318.5,616.8 321.5,617 324.6,617.2 327.8,617.4 331.1,617.6 334.4,617.8 337.8,618 341.3,618.2 345,618.3"/>
<path d="M388.9,615.2 391.8,614.7 393.9,614.3 395.4,614 396.8,613.6 398.5,613.1 400.9,612.4 403.7,611.6 406.8,610.6 410.2,609.5 413.5,608.4 416.7,607.3 419.8,606.3 422.9,605.3 426,604.2 429.1,603.2 432.3,602.1 435.4,600.9 438.5,599.7 441.6,598.5 444.8,597.2 447.9,595.9 451,594.5 454.3,593.1 457.5,591.6 460.7,590 463.8,588.4 466.7,586.7 469.5,584.9 472.1,583.1 474.6,581.2 477,579.2 479.3,577.3 481.4,575.5 483.4,573.7 485.2,571.9 487,570.1 488.8,568.1 490.6,566 492.5,563.6 494.5,561.1 496.4,558.5 498.3,555.9 500,553.3 501.6,550.7 503.2,548.1 504.7,545.5 506.2,543 507.5,540.7 508.7,538.7 509.7,537 510.7,535.5 511.6,534.1 512.6,532.6 513.5,530.9 514.5,529.1 515.5,527.3 516.5,525.4 517.5,523.6 518.5,521.9 519.5,520.4 520.5,519 521.5,517.6 522.6,516.3 523.6,514.9 524.6,513.4 525.6,511.9 526.6,510.3 527.6,508.8 528.6,507.1 529.5,505.3 530.4,503.4 531.2,501.5 532,499.5 532.8,497.4 533.5,495.2 534.2,492.9 534.8,490.5 535.4,488 535.9,485.5 536.5,483.1 537.1,481 537.7,479 538.3,477.1 538.9,475.1 539.5,473.1 540.1,471 540.7,468.6 541.4,466.1 542,463.6 542.6,461.2 543.1,458.9 543.7,456.9 544.3,455.3 544.9,453.6 545.3,451.7 545.3,449.3 545.1,447.2"/>
<path d="M529.2,406.7 528,405 527,404.1 526.2,403.6 525.3,403.3 524.3,402.7 523,401.7 521.5,400.6 519.9,399.5 518.2,398.2 516.5,396.9 514.7,395.5 512.9,393.9 511,392.2 509.1,390.5 507,388.9 504.7,387.5 502.3,386.3 499.8,385.4 497.2,384.5 494.2,383.7 490.9,382.9 487,382 482.4,381.2 477.4,380.4 472.4,379.7 467.7,379 463.6,378.3 460.1,377.6 456.8,377 453.8,376.4 450.7,375.9 447.6,375.4 444.3,375 441.1,374.6 437.8,374.3 434.5,374 431.3,373.8 428,373.6 424.8,373.4 421.5,373.2 418.3,373.1 415.1,373 411.8,373 408.5,373 405.1,373.1 401.8,373.3 398.6,373.4 395.6,373.7 392.7,374 390,374.4 387.4,374.9 384.8,375.4 382.5,375.9 380.2,376.5 378.2,377.1 376.3,377.7 374.4,378.3 372.6,379.1 370.7,379.9 368.7,380.7 366.8,381.7 364.8,382.7 362.9,383.7 360.9,384.8 358.9,386 357,387.2 355,388.5 353.1,389.8 351.1,391.2 349.2,392.7 347.2,394.3 345.3,395.9 343.4,397.6 341.4,399.3 339.5,400.9 337.5,402.6 335.6,404.3 333.7,405.9 331.8,407.5 329.7,409 327.5,410.5 325.3,411.9 323,413.3 320.7,414.6 318.4,415.7 316.1,416.6 313.8,417.4 311.4,418 309.2,418.5 306.9,418.7 304.8,418.8 302.7,418.6 300.7,418.2 298.8,417.6 296.9,416.9 295.1,416 293.3,415 291.6,413.8 289.9,412.5 288.3,411.1 286.8,409.5 285.6,407.9 284.4,406.2 283.4,404.4 282.5,402.5 281.7,400.3 281,397.7 280.3,395.2 279.7,392.4 279.2,389.4 278.9,385.7 278.8,381.3 278.9,375.9 279.2,369.6 279.6,362.8 280.2,355.8 280.9,348.9 281.8,342.3 282.8,335.7 283.9,329.1 285.3,322.6 286.9,316.2 288.8,309.9 290.9,303.7 293.2,297.5 295.9,291.6 298.8,286 302,280.8 305.8,276.1 310,271.8 314.6,267.8 319,264.2 323.2,261"/>
<path d="M362.3,242.3 365.6,241.3 369,240.4 372.3,239.5 375.6,238.8 378.7,238.1 381.7,237.5 384.6,237 387.5,236.6 390.3,236.3 393.3,236 396.4,235.7 399.5,235.5 402.6,235.4 405.8,235.3 409,235.3 412,235.4 415,235.5 417.9,235.7 421,236 424.3,236.4 428,236.9 432,237.5 436.3,238.2 440.8,239 445.4,239.9 450,241 454.7,242.3 459.5,243.8 464.3,245.4 469.1,247.1 473.6,248.5 477.8,249.9 481.8,251.2 485.6,252.4 489.3,253.6 492.8,254.5 496.1,255.2 499.3,255.7 502.4,256 505.2,256.2 507.8,256.2 510,256 511.8,255.7 513.3,255.2 514.5,254.6 515.5,253.8 516.3,252.8 516.9,251.8 517.4,250.7 517.8,249.5 517.9,248.1 517.7,246.4 517.4,244.2 516.8,241.6 516.1,238.7 515,235.5 513.7,232.2 512,229 509.8,225.6 507,222.1 504,218.5 500.9,215.1 497.9,211.9 495.2,209.3 492.7,207 490.2,205 487.8,203.1 485.1,201.3 482.3,199.3 479.3,197.4 476.1,195.4 472.8,193.5 469.7,191.7 466.7,190 464.1,188.6 461.8,187.3 459.6,186.2 457.2,185 454.4,183.8 452.2,182.8"/>
<path d="M409.2,168.4 405.6,167.4 402.6,166.8 400.2,166.4 398,166.1 395.8,165.9 393.3,165.7 390.7,165.5 388.1,165.3 385.5,165.2 382.5,165.1 379,165 374.7,165 369.6,165 363.9,165.1 358.3,165.2 353,165.4 348.7,165.6 345,165.8 341.9,166.1 339.1,166.4 336.3,166.8 333.3,167.2 330.2,167.6 327.1,168.1 324,168.6 320.9,169.2 317.7,169.8 314.6,170.4 311.5,171.1 308.4,171.9 305.2,172.6 302.1,173.4 299,174.3 295.8,175.1 292.7,176 289.6,177 286.4,178 283.3,179 280.2,180.1 277.1,181.3 274,182.6 270.9,183.8 267.7,185.1 264.7,186.3 261.7,187.3 258.8,188.4 255.7,189.5 252.4,190.9 248.7,192.6 244.6,194.6 240.1,196.8 235.5,199.2 231,201.7 226.7,204.3 222.7,207.1 218.7,210 214.8,213.1 211.2,216.2 207.8,219.1 204.7,221.8 202,224.3 199.6,226.7 197.3,229.1 194.9,231.6 192.5,234.2 189.9,236.9 187.3,239.7 184.7,242.6 182.3,245.5 180,248.3 177.9,251.1 176,253.9 174.2,256.6 172.4,259.4 170.6,262.3 168.8,265.3 166.9,268.4 165,271.5 163.1,274.7 161.2,277.9 159.4,281 157.4,284.3 155.4,287.5 153.5,290.7 151.6,293.8 150,296.7 148.6,299.2 147.5,301.4 146.4,303.6 145.4,305.9 144.4,308.9 143.2,312.6 142.8,314"/>
<path d="M131.7,356 130.7,360 130.1,363.1 129.8,365.5 129.6,367.6 129.5,369.8 129.5,372.3 129.5,375.4 129.4,378.8 129.5,382.5 129.6,386.3 129.8,390.4 130.1,394.8 130.5,399.4 131.1,404.3 131.7,409.5 132.4,414.7 133.3,420 134.3,425.5 135.5,431.2 136.8,436.9 138.1,442.7 139.5,448.2 141,453.5 142.5,458.7 144,463.8 145.6,468.7 147.2,473.5 148.8,478.3 150.4,482.8 151.9,487.3 153.5,491.7 155.1,495.9 156.7,500 158.5,504.1 160.4,508.3 162.2,512.3 164,516 165.6,519.1 166.7,521.4 167.4,522.9 168,523.8 168.5,524.6 169.2,525.6 170.5,527.3 172.1,529.6 174,532.1 176,534.7 178,537.4 180,540 181.7,542.4 183.3,544.7 184.9,547 186.7,549.5 189.1,552.3 192.1,555.5 194.4,557.9"/>
</g>
<g font-size="17.4" fill="#000" text-anchor="middle">
<text transform="translate(440.8,86.7) rotate(10.3)" y="6.2">2640</text>
<text transform="translate(663.7,281.7) rotate(68.7)" y="6.2">2640</text>
<text transform="translate(611.5,572.2) rotate(-50.1)" y="6.2">2640</text>
<text transform="translate(465.4,681.1) rotate(-17.1)" y="6.2">2640</text>
<text transform="translate(196.2,653.3) rotate(32.8)" y="6.2">2640</text>
<text transform="translate(74.1,500.9) rotate(70)" y="6.2">2640</text>
<text transform="translate(115.3,190.4) rotate(-52.1)" y="6.2">2640</text>
<text transform="translate(210.7,573.3) rotate(38.8)" y="6.2">2660</text>
<text transform="translate(366.7,618.3) rotate(-4.3)" y="6.2">2660</text>
<text transform="translate(539.4,425.9) rotate(68.6)" y="6.2">2660</text>
<text transform="translate(341.7,249.3) rotate(-24.6)" y="6.2">2660</text>
<text transform="translate(431,175) rotate(18.5)" y="6.2">2660</text>
<text transform="translate(137.7,335) rotate(-75.1)" y="6.2">2660</text>
</g>
<g fill="none" stroke="#000" stroke-width="1.1" stroke-dasharray="3.8,5.5">
<circle cx="377.5" cy="384.4" r="61.5"/>
<circle cx="377.5" cy="384.4" r="125.3"/>
<circle cx="377.5" cy="384.4" r="193.6"/>
<circle cx="377.5" cy="384.4" r="269.9"/>
<path d="M377.5,384.4 L377.5,56.4 M408.3,331.1 L541.5,100.3 M430.8,353.6 L661.6,220.4 M377.5,384.4 L705.5,384.4 M430.8,415.2 L661.6,548.4 M408.3,437.7 L541.5,668.5 M377.5,384.4 L377.5,712.4 M346.7,437.7 L213.5,668.5 M324.2,415.2 L93.4,548.4 M377.5,384.4 L49.5,384.4 M324.2,353.6 L93.4,220.4 M346.7,331.1 L213.5,100.3"/>
</g>
<path d="M377.5,381.1 l3.7,3.7 l-3.7,3.7 l-3.7,-3.7z" fill="#000"/>
</g>
<g font-weight="bold" font-size="22.7" fill="#000">
<text x="215.3" y="18" textLength="115" lengthAdjust="spacingAndGlyphs">23/02/2026</text>
<text x="345.6" y="18" textLength="79.5" lengthAdjust="spacingAndGlyphs">00 UTC</text>
<text x="438.7" y="19.6">+</text>
<text x="458.9" y="18" textLength="81.5" lengthAdjust="spacingAndGlyphs">000 hrs</text>
</g>
<g font-weight="bold" font-size="18.4" fill="#000">
<text x="377.6" y="49.9" text-anchor="middle">0</text>
<text x="377.6" y="732" text-anchor="middle">180</text>
<text x="188.6" y="96" text-anchor="middle">30W</text>
<text x="63.7" y="220.3" text-anchor="middle">60W</text>
<text x="36.4" y="391.3" text-anchor="end">90W</text>
<text x="58.5" y="562" text-anchor="middle">120W</text>
<text x="183.7" y="687" text-anchor="middle">150W</text>
<text x="564" y="95.9" text-anchor="middle">30E</text>
<text x="688.7" y="220.3" text-anchor="middle">60E</text>
<text x="718.3" y="391.3" text-anchor="start">90E</text>
<text x="692.8" y="562" text-anchor="middle">120E</text>
<text x="568.3" y="687" text-anchor="middle">150E</text>
</g>
<g fill="none" stroke="#2e2e2e" stroke-width="1.8" stroke-linejoin="round" stroke-linecap="butt">
<path d="M609.5,55 V37.3 L617.9,53.6 L626.3,37.3 V55 M645.45,37.4 c-5.2,0 -6.95,2.4 -6.95,8.35 c0,5.95 1.75,8.35 6.95,8.35 c5.2,0 6.95,-2.4 6.95,-8.35 c0,-5.95 -1.75,-8.35 -6.95,-8.35z M665.6,37.4 V54.1 H670.3 c5.8,0 7.8,-2.4 7.8,-8.35 c0,-5.95 -2,-8.35 -7.8,-8.35z M700.6,37.4 H689.7 V54.1 H700.6 M689.7,45.4 H699.6 M719.6,38.3 c-1.6,-0.6 -3.3,-0.95 -5.2,-0.95 c-3.4,0 -5.2,1.4 -5.2,4.1 c0,5.6 10.8,3.4 10.8,8.9 c0,2.8 -2,4.15 -5.6,4.15 c-2.2,0 -4,-0.4 -5.6,-1.1"/>
</g>
<g fill="none" stroke="#444" stroke-width="0.6"><circle cx="730.7" cy="38.1" r="2.5"/><path d="M731.7,37.3a1.2,1.2 0 1 0 0,1.6"/></g>
<text x="674.7" y="694.3" font-size="15.2" text-anchor="middle" fill="#000">50</text>
<path d="M646.8,705.5 H701.6 M694.2,702 L702,705.5 L694.2,709" fill="none" stroke="#000" stroke-width="1.2"/>
<rect x="52.5" y="738.5" width="36.4" height="23" fill="#ffffff"/>
<rect x="88.6" y="738.5" width="36.4" height="23" fill="#dbf0fc"/>
<rect x="124.6" y="738.5" width="36.4" height="23" fill="#b3e0f8"/>
<rect x="160.7" y="738.5" width="36.4" height="23" fill="#8cc8ec"/>
<rect x="196.7" y="738.5" width="36.4" height="23" fill="#6ba8d8"/>
<rect x="232.8" y="738.5" width="36.4" height="23" fill="#4f90c6"/>
<rect x="268.8" y="738.5" width="36.4" height="23" fill="#4fa08e"/>
<rect x="304.9" y="738.5" width="36.4" height="23" fill="#4eb05c"/>
<rect x="340.9" y="738.5" width="36.4" height="23" fill="#7cc24e"/>
<rect x="377" y="738.5" width="36.4" height="23" fill="#c4dc58"/>
<rect x="413.1" y="738.5" width="36.4" height="23" fill="#fadc5a"/>
<rect x="449.1" y="738.5" width="36.4" height="23" fill="#f6ac46"/>
<rect x="485.2" y="738.5" width="36.4" height="23" fill="#f67c34"/>
<rect x="521.2" y="738.5" width="36.4" height="23" fill="#ee6030"/>
<rect x="557.3" y="738.5" width="36.4" height="23" fill="#de3c30"/>
<rect x="593.3" y="738.5" width="36.4" height="23" fill="#cc2630"/>
<rect x="629.4" y="738.5" width="36.4" height="23" fill="#b41e28"/>
<rect x="665.4" y="738.5" width="36.4" height="23" fill="#8c1a22"/>
<path d="M52.5,738.5 H701.5 V761.5 H52.5Z M88.6,738.5 V761.5 M124.6,738.5 V761.5 M160.7,738.5 V761.5 M196.7,738.5 V761.5 M232.8,738.5 V761.5 M268.8,738.5 V761.5 M304.9,738.5 V761.5 M340.9,738.5 V761.5 M377,738.5 V761.5 M413.1,738.5 V761.5 M449.1,738.5 V761.5 M485.2,738.5 V761.5 M521.2,738.5 V761.5 M557.3,738.5 V761.5 M593.3,738.5 V761.5 M629.4,738.5 V761.5 M665.4,738.5 V761.5" fill="none" stroke="#000" stroke-width="1"/>
<g font-size="17" text-anchor="middle" fill="#000">
<text x="88.6" y="779.8">10</text>
<text x="124.6" y="779.8">15</text>
<text x="160.7" y="779.8">20</text>
<text x="196.7" y="779.8">25</text>
<text x="232.8" y="779.8">30</text>
<text x="268.8" y="779.8">35</text>
<text x="304.9" y="779.8">40</text>
<text x="340.9" y="779.8">45</text>
<text x="377" y="779.8">50</text>
<text x="413.1" y="779.8">55</text>
<text x="449.1" y="779.8">60</text>
<text x="485.2" y="779.8">65</text>
<text x="521.2" y="779.8">70</text>
<text x="557.3" y="779.8">75</text>
<text x="593.3" y="779.8">80</text>
<text x="629.4" y="779.8">85</text>
<text x="665.4" y="779.8">90</text>
</g>
</svg></body></html>
